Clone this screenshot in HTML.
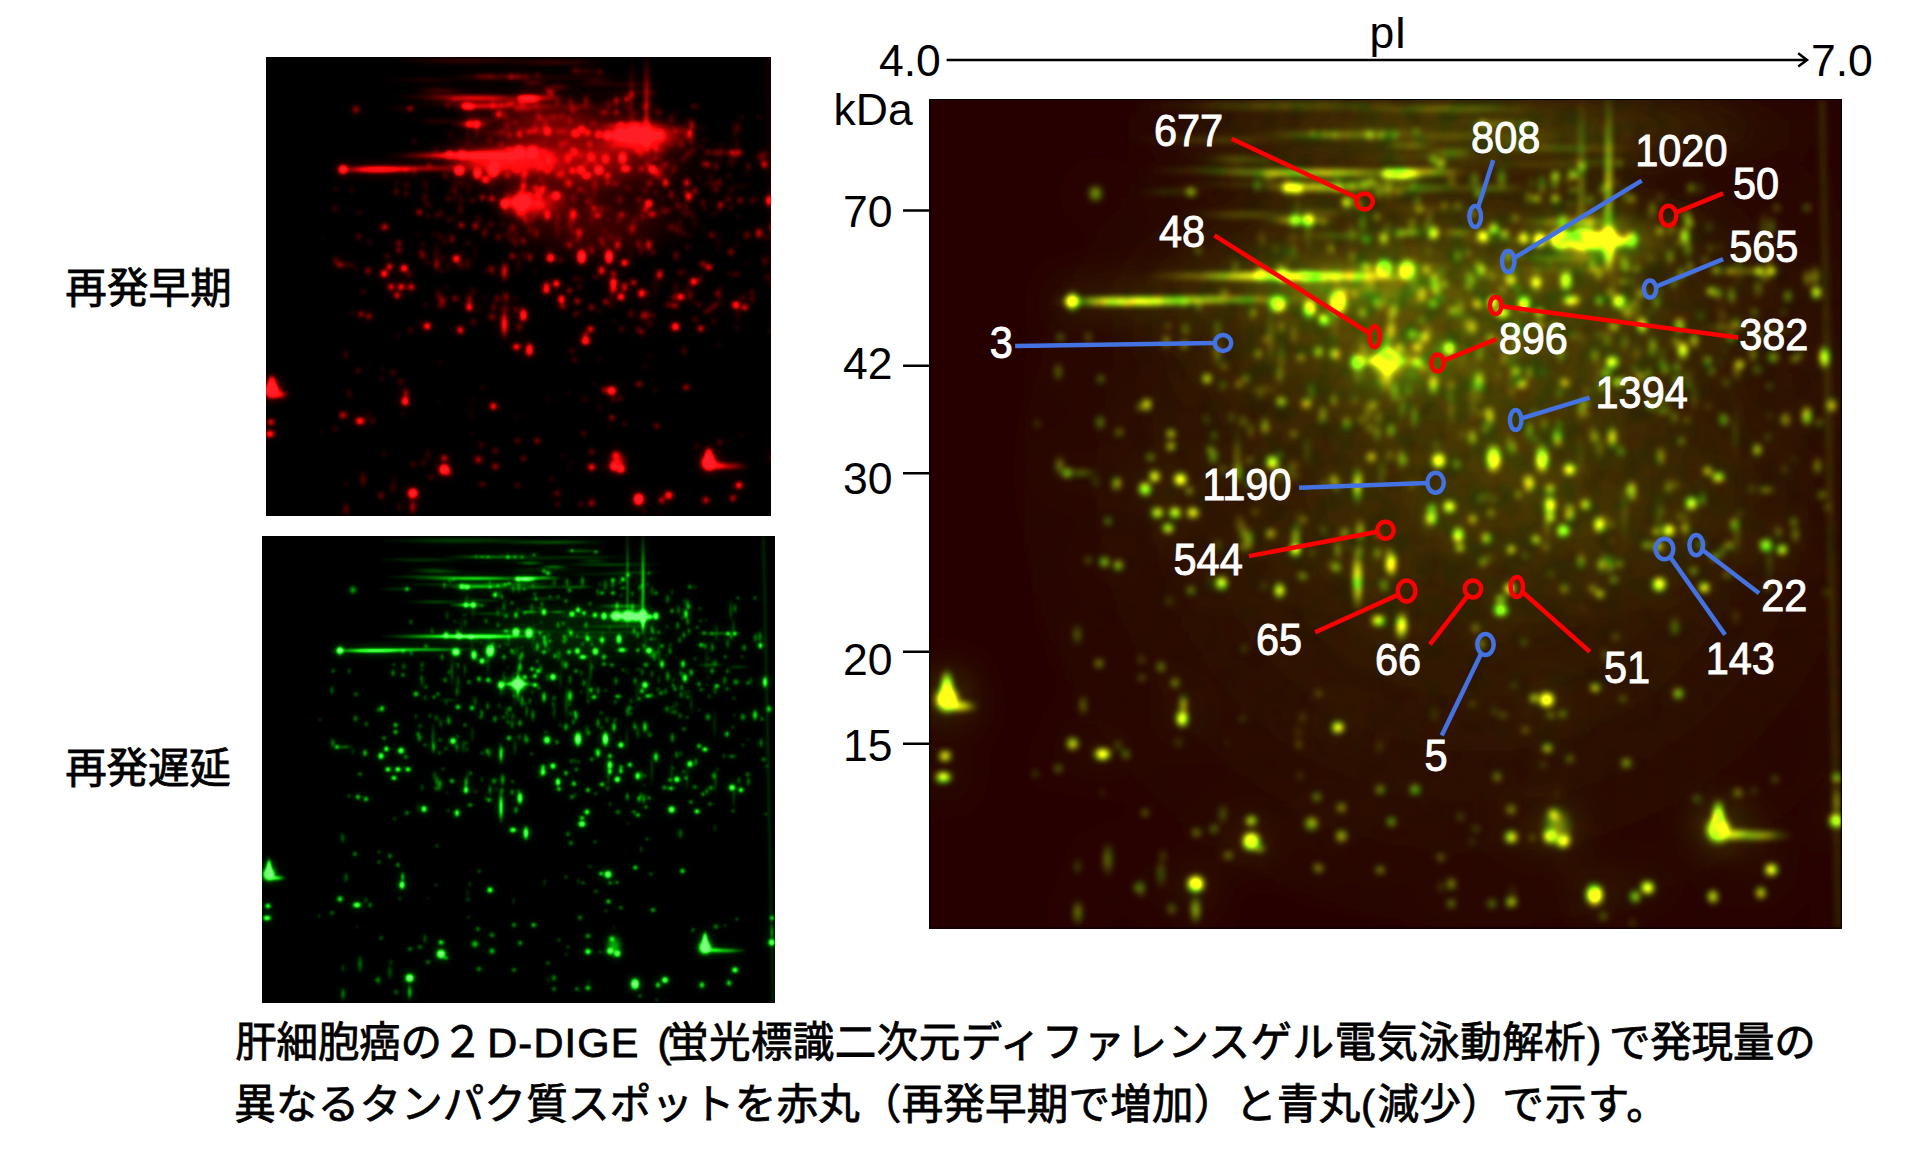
<!DOCTYPE html>
<html lang="ja"><head><meta charset="utf-8"><title>2D-DIGE</title>
<style>
html,body{margin:0;padding:0;background:#fff}
svg{display:block}
text{font-family:"Liberation Sans","Noto Sans CJK JP",sans-serif;fill:#000}
.n{font-size:41.5px;fill:#fff;stroke:#fff;stroke-width:0.9px}
.a{font-size:44.5px}
.j{font-size:41.5px;stroke:#000;stroke-width:0.8px;font-family:"Liberation Sans","Noto Sans CJK JP",sans-serif}
</style></head><body>
<svg width="1916" height="1166" viewBox="0 0 1916 1166">
<defs>
<radialGradient id="rg"><stop offset="0" stop-color="#fff"/><stop offset="0.35" stop-color="#fff" stop-opacity="0.8"/><stop offset="0.65" stop-color="#fff" stop-opacity="0.3"/><stop offset="1" stop-color="#fff" stop-opacity="0"/></radialGradient>
<radialGradient id="rg2"><stop offset="0" stop-color="#fff"/><stop offset="0.25" stop-color="#fff" stop-opacity="0.86"/><stop offset="0.5" stop-color="#fff" stop-opacity="0.5"/><stop offset="0.7" stop-color="#fff" stop-opacity="0.2"/><stop offset="0.85" stop-color="#fff" stop-opacity="0.06"/><stop offset="1" stop-color="#fff" stop-opacity="0"/></radialGradient>
<filter id="gb" filterUnits="userSpaceOnUse" x="-100" y="-100" width="1200" height="1110"><feGaussianBlur stdDeviation="22"/></filter>
<filter id="fr" filterUnits="userSpaceOnUse" x="266.6" y="57.7" width="504.3" height="458.0" color-interpolation-filters="sRGB"><feGaussianBlur in="SourceGraphic" stdDeviation="2.0" result="a"/><feGaussianBlur in="SourceGraphic" stdDeviation="7" result="b"/><feComposite in="a" in2="b" operator="arithmetic" k1="0" k2="2.1" k3="1.0" k4="0" result="c"/><feComponentTransfer><feFuncR type="gamma" amplitude="1.75" exponent="1.15" offset="0"/><feFuncG type="gamma" amplitude="0.12" exponent="2.5" offset="0"/><feFuncB type="gamma" amplitude="0.15" exponent="2.5" offset="0"/><feFuncA type="linear" slope="0" intercept="1"/></feComponentTransfer></filter>
<filter id="fg" filterUnits="userSpaceOnUse" x="262.4" y="536.9" width="512.4" height="466.1" color-interpolation-filters="sRGB"><feGaussianBlur in="SourceGraphic" stdDeviation="0.95" result="a"/><feGaussianBlur in="SourceGraphic" stdDeviation="4" result="b"/><feComposite in="a" in2="b" operator="arithmetic" k1="0" k2="1.35" k3="0.5" k4="0" result="c"/><feComponentTransfer><feFuncR type="gamma" amplitude="0.5" exponent="3" offset="0"/><feFuncG type="gamma" amplitude="1.45" exponent="0.9" offset="0"/><feFuncB type="gamma" amplitude="0.5" exponent="3" offset="0"/><feFuncA type="linear" slope="0" intercept="1"/></feComponentTransfer></filter>
<filter id="fy" filterUnits="userSpaceOnUse" x="929.2" y="99.0" width="912.6" height="829.6" color-interpolation-filters="sRGB"><feGaussianBlur in="SourceGraphic" stdDeviation="3.3" result="a"/><feGaussianBlur in="SourceGraphic" stdDeviation="20" result="b"/><feComposite in="a" in2="b" operator="arithmetic" k1="0" k2="1.75" k3="0.55" k4="0" result="c"/><feTurbulence type="fractalNoise" baseFrequency="0.045" numOctaves="2" seed="5" result="n"/><feColorMatrix in="n" type="matrix" values="1.5 0 0 0 0.05  0 0.6 0 0 0.7  0 0 0 0 1  0 0 0 0 1" result="n2"/><feComposite in="c" in2="n2" operator="arithmetic" k1="1" k2="0" k3="0" k4="0"/><feComponentTransfer><feFuncR type="gamma" amplitude="1.1" exponent="1.0" offset="0.15"/><feFuncG type="gamma" amplitude="1.3" exponent="0.85" offset="0"/><feFuncB type="gamma" amplitude="0.1" exponent="1" offset="0"/><feFuncA type="linear" slope="0" intercept="1"/></feComponentTransfer></filter>
<g id="sp" fill="url(#rg)">
<circle cx="510.9" cy="101.8" r="4.4" opacity="0.31"/>
<circle cx="394.4" cy="152.4" r="5.1" opacity="0.11"/>
<ellipse cx="566.6" cy="92.3" rx="3" ry="5.5" opacity="0.12"/>
<ellipse cx="633.5" cy="195.1" rx="4.4" ry="11" opacity="0.35"/>
<circle cx="639.4" cy="130.6" r="5.2" opacity="0.24"/>
<ellipse cx="414.2" cy="133.2" rx="4.2" ry="10.4" opacity="0.18"/>
<ellipse cx="760.7" cy="105.3" rx="4.3" ry="12.1" opacity="0.15"/>
<ellipse cx="396" cy="167.5" rx="4.2" ry="10.6" opacity="0.15"/>
<ellipse cx="691.9" cy="134.2" rx="3.6" ry="9" opacity="0.34"/>
<circle cx="530.1" cy="113.2" r="3.3" opacity="0.12"/>
<ellipse cx="499" cy="142.1" rx="3.7" ry="6.6" opacity="0.17"/>
<ellipse cx="844" cy="97.9" rx="3.9" ry="5" opacity="0.14"/>
<ellipse cx="594.7" cy="88.7" rx="4.5" ry="11.2" opacity="0.25"/>
<ellipse cx="790.8" cy="120.9" rx="4.5" ry="11.4" opacity="0.23"/>
<ellipse cx="751" cy="92.2" rx="3" ry="4" opacity="0.22"/>
<ellipse cx="683.6" cy="91.2" rx="4.6" ry="13" opacity="0.25"/>
<ellipse cx="692.3" cy="136.3" rx="4.6" ry="13.1" opacity="0.19"/>
<ellipse cx="823.9" cy="125.7" rx="4.3" ry="7.8" opacity="0.12"/>
<ellipse cx="736.4" cy="99.3" rx="3.4" ry="6.2" opacity="0.34"/>
<ellipse cx="598.5" cy="103.6" rx="3.8" ry="5" opacity="0.33"/>
<ellipse cx="762.3" cy="185.3" rx="3.5" ry="6.3" opacity="0.36"/>
<circle cx="693" cy="128.7" r="3.4" opacity="0.15"/>
<ellipse cx="464.3" cy="111.4" rx="4" ry="10.1" opacity="0.15"/>
<ellipse cx="489.7" cy="101.2" rx="4.1" ry="10.4" opacity="0.25"/>
<ellipse cx="830.2" cy="165" rx="4.1" ry="10.2" opacity="0.27"/>
<ellipse cx="722" cy="137.6" rx="5" ry="14.2" opacity="0.31"/>
<ellipse cx="545.7" cy="130.8" rx="3.1" ry="8.7" opacity="0.2"/>
<circle cx="443.3" cy="199.4" r="3.9" opacity="0.19"/>
<circle cx="373.3" cy="84.1" r="3.2" opacity="0.35"/>
<ellipse cx="658" cy="92.3" rx="3.3" ry="6" opacity="0.14"/>
<circle cx="474.6" cy="124.8" r="3.7" opacity="0.13"/>
<ellipse cx="594.3" cy="198.6" rx="4" ry="5.2" opacity="0.12"/>
<ellipse cx="398.5" cy="124.2" rx="3.5" ry="9.9" opacity="0.14"/>
<circle cx="358.3" cy="195.5" r="4.1" opacity="0.28"/>
<ellipse cx="810.5" cy="172.9" rx="3.6" ry="10.1" opacity="0.32"/>
<circle cx="699.9" cy="114.7" r="3.7" opacity="0.19"/>
<ellipse cx="459.7" cy="147.5" rx="4.1" ry="11.6" opacity="0.16"/>
<circle cx="758.4" cy="199.4" r="4.9" opacity="0.31"/>
<ellipse cx="722" cy="110.7" rx="4.1" ry="5.3" opacity="0.29"/>
<circle cx="848.7" cy="176.6" r="4" opacity="0.28"/>
<ellipse cx="832" cy="136.5" rx="5.2" ry="6.7" opacity="0.35"/>
<circle cx="531.6" cy="109.9" r="3.4" opacity="0.19"/>
<circle cx="591.5" cy="199.5" r="4.3" opacity="0.22"/>
<ellipse cx="677.9" cy="177.7" rx="3" ry="8.6" opacity="0.13"/>
<circle cx="543.8" cy="167.4" r="3.3" opacity="0.21"/>
<ellipse cx="669.2" cy="94.3" rx="5.2" ry="14.7" opacity="0.2"/>
<circle cx="550.3" cy="195" r="4.6" opacity="0.36"/>
<ellipse cx="360.6" cy="153.3" rx="4" ry="11.3" opacity="0.14"/>
<ellipse cx="766" cy="198.9" rx="4.5" ry="5.8" opacity="0.14"/>
<ellipse cx="624.8" cy="86.6" rx="4.8" ry="13.7" opacity="0.27"/>
<circle cx="613.8" cy="193.4" r="3.9" opacity="0.31"/>
<circle cx="453.7" cy="113.6" r="3.5" opacity="0.3"/>
<circle cx="512" cy="147.9" r="4.9" opacity="0.34"/>
<ellipse cx="526.1" cy="137.8" rx="4.3" ry="10.7" opacity="0.21"/>
<ellipse cx="812.3" cy="142.9" rx="4.1" ry="10.3" opacity="0.23"/>
<circle cx="789.5" cy="175" r="4.3" opacity="0.14"/>
<ellipse cx="586.9" cy="169" rx="4.2" ry="5.5" opacity="0.28"/>
<ellipse cx="615.9" cy="140.6" rx="4.8" ry="11.9" opacity="0.11"/>
<ellipse cx="443.7" cy="89.1" rx="3.1" ry="5.5" opacity="0.25"/>
<ellipse cx="732.2" cy="191" rx="3.9" ry="9.8" opacity="0.35"/>
<ellipse cx="654.2" cy="107.5" rx="3.5" ry="8.8" opacity="0.24"/>
<ellipse cx="589.2" cy="194.4" rx="4.6" ry="5.9" opacity="0.34"/>
<ellipse cx="799.6" cy="107.8" rx="3.9" ry="7.1" opacity="0.13"/>
<circle cx="570.9" cy="92.6" r="3.4" opacity="0.16"/>
<ellipse cx="500.2" cy="98.4" rx="4.8" ry="13.5" opacity="0.27"/>
<ellipse cx="532.4" cy="113.8" rx="3.2" ry="5.7" opacity="0.16"/>
<ellipse cx="829.9" cy="130.7" rx="4" ry="11.5" opacity="0.32"/>
<ellipse cx="428.5" cy="134.6" rx="4.1" ry="5.3" opacity="0.21"/>
<ellipse cx="527.6" cy="94.9" rx="3.7" ry="4.8" opacity="0.24"/>
<ellipse cx="570.1" cy="86.2" rx="3.6" ry="9.1" opacity="0.18"/>
<circle cx="834.1" cy="97.3" r="5.1" opacity="0.35"/>
<circle cx="399.8" cy="115.2" r="2.9" opacity="0.17"/>
<ellipse cx="412.3" cy="133.6" rx="5.1" ry="6.6" opacity="0.21"/>
<ellipse cx="618.9" cy="144.4" rx="4" ry="5.3" opacity="0.12"/>
<circle cx="375.8" cy="164.7" r="3.9" opacity="0.17"/>
<ellipse cx="355.1" cy="94.5" rx="3.5" ry="8.7" opacity="0.32"/>
<ellipse cx="380.4" cy="185.1" rx="3.9" ry="5.1" opacity="0.36"/>
<circle cx="558.6" cy="191.3" r="4.4" opacity="0.24"/>
<circle cx="467.6" cy="96.9" r="3.2" opacity="0.15"/>
<circle cx="819.6" cy="157.7" r="4.1" opacity="0.18"/>
<circle cx="600.4" cy="104.9" r="3.7" opacity="0.36"/>
<circle cx="365.4" cy="86.3" r="4.1" opacity="0.23"/>
<ellipse cx="471.3" cy="136.5" rx="4.5" ry="12.7" opacity="0.21"/>
<ellipse cx="597.8" cy="181.8" rx="3.8" ry="9.5" opacity="0.18"/>
<ellipse cx="455.8" cy="111" rx="3.3" ry="9.4" opacity="0.29"/>
<circle cx="417.5" cy="200" r="5.3" opacity="0.1"/>
<circle cx="664" cy="187.1" r="3.9" opacity="0.12"/>
<ellipse cx="773.5" cy="186.1" rx="4.5" ry="5.8" opacity="0.26"/>
<ellipse cx="698.1" cy="89.4" rx="3.3" ry="4.3" opacity="0.22"/>
<ellipse cx="480.2" cy="196.7" rx="5.2" ry="13.1" opacity="0.18"/>
<circle cx="364.1" cy="187.4" r="3.4" opacity="0.1"/>
<circle cx="540.2" cy="139.7" r="4.1" opacity="0.16"/>
<circle cx="740.5" cy="94.8" r="4.9" opacity="0.2"/>
<circle cx="367.7" cy="86.7" r="3.6" opacity="0.12"/>
<ellipse cx="832.5" cy="184" rx="3.2" ry="9.1" opacity="0.3"/>
<ellipse cx="719.5" cy="320.5" rx="4.6" ry="8.3" opacity="0.14"/>
<ellipse cx="786.7" cy="301.6" rx="2.9" ry="8.3" opacity="0.33"/>
<circle cx="735.7" cy="315.8" r="4.8" opacity="0.34"/>
<circle cx="801.9" cy="290" r="4.8" opacity="0.31"/>
<ellipse cx="712.9" cy="340.6" rx="4.5" ry="12.8" opacity="0.27"/>
<circle cx="450" cy="207.7" r="4.4" opacity="0.2"/>
<ellipse cx="643" cy="209.1" rx="2.9" ry="7.1" opacity="0.28"/>
<ellipse cx="663" cy="201.7" rx="4.8" ry="13.7" opacity="0.34"/>
<ellipse cx="878.3" cy="215.6" rx="4.1" ry="11.7" opacity="0.29"/>
<ellipse cx="538" cy="212.8" rx="3.5" ry="9.9" opacity="0.3"/>
<ellipse cx="526.7" cy="302.7" rx="4" ry="7.1" opacity="0.12"/>
<ellipse cx="884.9" cy="246.1" rx="2.9" ry="8.3" opacity="0.27"/>
<ellipse cx="446" cy="224.2" rx="3.4" ry="9.8" opacity="0.28"/>
<ellipse cx="732.5" cy="222" rx="4" ry="7.2" opacity="0.17"/>
<ellipse cx="759.3" cy="309.3" rx="4.5" ry="5.8" opacity="0.28"/>
<ellipse cx="555.6" cy="273.9" rx="4.7" ry="11.8" opacity="0.15"/>
<ellipse cx="920.6" cy="347.4" rx="2.9" ry="5.1" opacity="0.12"/>
<ellipse cx="672.1" cy="356.5" rx="5.3" ry="9.5" opacity="0.15"/>
<circle cx="903.4" cy="234.1" r="4.3" opacity="0.29"/>
<ellipse cx="543.1" cy="257.3" rx="4.3" ry="12.3" opacity="0.23"/>
<ellipse cx="872.5" cy="311" rx="3.4" ry="6.1" opacity="0.2"/>
<ellipse cx="489" cy="349.5" rx="4.5" ry="8.1" opacity="0.18"/>
<ellipse cx="479.3" cy="254.9" rx="3.6" ry="4.7" opacity="0.1"/>
<circle cx="800.7" cy="332.2" r="3.1" opacity="0.29"/>
<ellipse cx="880.2" cy="246.5" rx="3.7" ry="6.7" opacity="0.2"/>
<ellipse cx="863.6" cy="213.1" rx="5.1" ry="6.7" opacity="0.32"/>
<ellipse cx="553" cy="209.3" rx="4.5" ry="12.7" opacity="0.34"/>
<circle cx="536.5" cy="242.7" r="4.1" opacity="0.3"/>
<ellipse cx="818.9" cy="268" rx="2.9" ry="8.2" opacity="0.2"/>
<circle cx="866.6" cy="287.7" r="3.3" opacity="0.11"/>
<ellipse cx="791.1" cy="271.6" rx="4.7" ry="13.3" opacity="0.33"/>
<circle cx="661" cy="343.6" r="4.2" opacity="0.22"/>
<ellipse cx="586.2" cy="247.7" rx="4.7" ry="13.2" opacity="0.17"/>
<ellipse cx="750.8" cy="248.2" rx="4.2" ry="7.6" opacity="0.13"/>
<ellipse cx="744.1" cy="212.9" rx="4.1" ry="7.3" opacity="0.24"/>
<ellipse cx="643.8" cy="253.2" rx="4.7" ry="8.5" opacity="0.14"/>
<circle cx="506.5" cy="215.4" r="3.7" opacity="0.18"/>
<circle cx="599.2" cy="327.6" r="3.3" opacity="0.29"/>
<ellipse cx="622.7" cy="265.8" rx="4.1" ry="7.4" opacity="0.17"/>
<ellipse cx="801.5" cy="279" rx="4.2" ry="5.5" opacity="0.13"/>
<circle cx="670.4" cy="299.5" r="5" opacity="0.12"/>
<ellipse cx="877.7" cy="261.3" rx="4.4" ry="8" opacity="0.35"/>
<circle cx="852.4" cy="337.5" r="2.9" opacity="0.21"/>
<ellipse cx="807.6" cy="326.8" rx="5.2" ry="9.4" opacity="0.1"/>
<ellipse cx="611.5" cy="345.9" rx="4.9" ry="8.8" opacity="0.35"/>
<ellipse cx="536.1" cy="218.2" rx="3.2" ry="8" opacity="0.35"/>
<ellipse cx="462.5" cy="330.1" rx="4.6" ry="8.2" opacity="0.12"/>
<ellipse cx="814.5" cy="201.4" rx="3.1" ry="7.8" opacity="0.34"/>
<ellipse cx="745.3" cy="248.6" rx="3.1" ry="4.1" opacity="0.24"/>
<ellipse cx="635.6" cy="320.5" rx="3.1" ry="4" opacity="0.24"/>
<ellipse cx="712.3" cy="261.8" rx="3.4" ry="8.4" opacity="0.1"/>
<ellipse cx="688.4" cy="356.8" rx="3.5" ry="4.6" opacity="0.27"/>
<circle cx="870.8" cy="275.4" r="3.4" opacity="0.11"/>
<circle cx="622.1" cy="302.6" r="2.9" opacity="0.23"/>
<ellipse cx="760.5" cy="266.8" rx="3.5" ry="9.8" opacity="0.21"/>
<ellipse cx="600.2" cy="278.2" rx="4.5" ry="12.9" opacity="0.21"/>
<ellipse cx="764.8" cy="232.1" rx="4.8" ry="13.7" opacity="0.32"/>
<circle cx="440.7" cy="278.6" r="3.3" opacity="0.16"/>
<ellipse cx="521.8" cy="319.9" rx="3.5" ry="8.9" opacity="0.23"/>
<ellipse cx="503.9" cy="236.1" rx="3.9" ry="11" opacity="0.11"/>
<circle cx="718.6" cy="345.1" r="2.9" opacity="0.35"/>
<ellipse cx="479.9" cy="209.3" rx="3" ry="5.3" opacity="0.22"/>
<circle cx="780.3" cy="250.3" r="3.1" opacity="0.34"/>
<ellipse cx="578.6" cy="230.2" rx="5.1" ry="14.6" opacity="0.22"/>
<ellipse cx="569.5" cy="314.5" rx="4.9" ry="6.4" opacity="0.22"/>
<ellipse cx="462.6" cy="213.4" rx="3" ry="5.4" opacity="0.35"/>
<ellipse cx="470.3" cy="351.8" rx="3.3" ry="4.3" opacity="0.3"/>
<ellipse cx="567.8" cy="326.7" rx="3" ry="8.6" opacity="0.22"/>
<ellipse cx="601.5" cy="344.8" rx="3.3" ry="4.3" opacity="0.29"/>
<ellipse cx="655.2" cy="299.8" rx="3.4" ry="9.8" opacity="0.3"/>
<circle cx="426.6" cy="206.7" r="3" opacity="0.17"/>
<ellipse cx="798.9" cy="341.5" rx="3.7" ry="4.8" opacity="0.19"/>
<ellipse cx="907.7" cy="208" rx="4.7" ry="13.3" opacity="0.18"/>
<ellipse cx="550.4" cy="201.8" rx="4.7" ry="13.4" opacity="0.35"/>
<ellipse cx="439.6" cy="330.2" rx="3.1" ry="8.8" opacity="0.35"/>
<ellipse cx="907.8" cy="261.6" rx="3.4" ry="6.2" opacity="0.31"/>
<ellipse cx="475.1" cy="278.7" rx="2.8" ry="8.1" opacity="0.18"/>
<ellipse cx="769.8" cy="224.8" rx="3.4" ry="4.4" opacity="0.22"/>
<ellipse cx="818.2" cy="294.2" rx="4.1" ry="7.4" opacity="0.3"/>
<ellipse cx="535.5" cy="211.3" rx="2.9" ry="7.2" opacity="0.24"/>
<circle cx="489.8" cy="267.8" r="3.1" opacity="0.17"/>
<ellipse cx="449.5" cy="216.3" rx="4.1" ry="11.5" opacity="0.35"/>
<ellipse cx="496.4" cy="222" rx="4" ry="11.3" opacity="0.16"/>
<ellipse cx="688.9" cy="322" rx="4.7" ry="6.1" opacity="0.18"/>
<circle cx="703.9" cy="259.4" r="4.7" opacity="0.21"/>
<ellipse cx="503" cy="238" rx="3.5" ry="8.8" opacity="0.15"/>
<ellipse cx="439.3" cy="240.5" rx="3.4" ry="8.6" opacity="0.16"/>
<circle cx="831.1" cy="303.2" r="5.3" opacity="0.1"/>
<ellipse cx="870.3" cy="237.3" rx="3.9" ry="5.1" opacity="0.11"/>
<ellipse cx="559.9" cy="219.8" rx="3.3" ry="8.2" opacity="0.15"/>
<ellipse cx="444.7" cy="281.3" rx="3.3" ry="8.1" opacity="0.17"/>
<ellipse cx="815" cy="348.9" rx="3.1" ry="7.7" opacity="0.28"/>
<circle cx="589.4" cy="207.1" r="3.7" opacity="0.15"/>
<circle cx="539.5" cy="294.8" r="4.4" opacity="0.31"/>
<ellipse cx="836.6" cy="265.1" rx="3.7" ry="9.3" opacity="0.18"/>
<circle cx="512.3" cy="325.4" r="4.2" opacity="0.21"/>
<ellipse cx="824.5" cy="304.9" rx="3.2" ry="8" opacity="0.12"/>
<ellipse cx="491.4" cy="309.8" rx="3.8" ry="5" opacity="0.27"/>
<ellipse cx="625.3" cy="209.2" rx="4.7" ry="6.1" opacity="0.21"/>
<ellipse cx="414.7" cy="320.9" rx="4.8" ry="13.7" opacity="0.15"/>
<circle cx="788.8" cy="233" r="2.8" opacity="0.21"/>
<ellipse cx="837.4" cy="264.6" rx="5" ry="9" opacity="0.3"/>
<ellipse cx="473.6" cy="209.3" rx="3.2" ry="5.7" opacity="0.12"/>
<circle cx="733" cy="259.1" r="4.1" opacity="0.19"/>
<ellipse cx="490.4" cy="228" rx="3" ry="5.4" opacity="0.23"/>
<circle cx="829.2" cy="352.2" r="3.3" opacity="0.32"/>
<ellipse cx="428.1" cy="343.7" rx="3.6" ry="9" opacity="0.34"/>
<circle cx="609.5" cy="342.4" r="4.4" opacity="0.27"/>
<circle cx="856.5" cy="298.2" r="4.3" opacity="0.32"/>
<ellipse cx="501.6" cy="235.3" rx="3.8" ry="9.5" opacity="0.14"/>
<circle cx="552.9" cy="380.7" r="5.2" opacity="0.13"/>
<ellipse cx="691.7" cy="475.6" rx="2.9" ry="3.8" opacity="0.15"/>
<ellipse cx="717.1" cy="443.2" rx="4.4" ry="5.7" opacity="0.27"/>
<ellipse cx="518.1" cy="396.3" rx="3.8" ry="4.9" opacity="0.22"/>
<ellipse cx="607" cy="361" rx="4.4" ry="7.8" opacity="0.23"/>
<circle cx="612.8" cy="453.9" r="4.9" opacity="0.31"/>
<ellipse cx="581" cy="367.8" rx="3.7" ry="4.8" opacity="0.14"/>
<ellipse cx="609.5" cy="437" rx="2.9" ry="8.3" opacity="0.15"/>
<circle cx="937.4" cy="406.3" r="4.6" opacity="0.13"/>
<circle cx="651.8" cy="416.3" r="5.2" opacity="0.13"/>
<circle cx="352.9" cy="453.2" r="4.5" opacity="0.16"/>
<circle cx="978.2" cy="434.1" r="5.2" opacity="0.28"/>
<ellipse cx="800.1" cy="391.9" rx="4.9" ry="12.2" opacity="0.29"/>
<ellipse cx="416" cy="497.3" rx="3.5" ry="6.3" opacity="0.15"/>
<ellipse cx="650.6" cy="501" rx="3.3" ry="4.3" opacity="0.26"/>
<ellipse cx="469.7" cy="415.5" rx="3.3" ry="6" opacity="0.16"/>
<circle cx="947.2" cy="463.5" r="5" opacity="0.3"/>
<ellipse cx="488.1" cy="477.3" rx="2.9" ry="3.8" opacity="0.34"/>
<circle cx="617" cy="438.8" r="4.5" opacity="0.18"/>
<ellipse cx="673.5" cy="491.1" rx="4.7" ry="6" opacity="0.18"/>
<circle cx="984.1" cy="447.5" r="3.7" opacity="0.22"/>
<ellipse cx="428.3" cy="473.4" rx="2.9" ry="7.3" opacity="0.18"/>
<ellipse cx="744.2" cy="511" rx="4.3" ry="12.2" opacity="0.33"/>
<ellipse cx="808.3" cy="474" rx="3.4" ry="4.4" opacity="0.26"/>
<circle cx="602.8" cy="437.4" r="5" opacity="0.23"/>
<ellipse cx="726" cy="364.5" rx="2.9" ry="7.4" opacity="0.2"/>
<ellipse cx="380.2" cy="413.1" rx="3.4" ry="8.4" opacity="0.19"/>
<circle cx="398.9" cy="414.5" r="4.9" opacity="0.15"/>
<circle cx="947.3" cy="395.4" r="3.2" opacity="0.13"/>
<ellipse cx="406.4" cy="461.2" rx="3.5" ry="4.5" opacity="0.34"/>
<ellipse cx="345.9" cy="485.5" rx="5" ry="12.6" opacity="0.27"/>
<circle cx="610.7" cy="503.7" r="4.6" opacity="0.16"/>
<circle cx="307.8" cy="366.9" r="2.9" opacity="0.17"/>
<ellipse cx="347.4" cy="478.9" rx="2.8" ry="7.1" opacity="0.27"/>
<ellipse cx="442.3" cy="421.8" rx="4.1" ry="11.7" opacity="0.24"/>
<ellipse cx="745.8" cy="484.3" rx="3.2" ry="4.2" opacity="0.13"/>
<ellipse cx="735.1" cy="512.5" rx="4.6" ry="8.3" opacity="0.28"/>
<ellipse cx="311.9" cy="489.2" rx="4.7" ry="8.4" opacity="0.14"/>
<ellipse cx="755.3" cy="384.7" rx="5.3" ry="6.9" opacity="0.17"/>
<ellipse cx="334.1" cy="409.7" rx="4.7" ry="13.3" opacity="0.34"/>
<ellipse cx="487.4" cy="365.5" rx="4.4" ry="12.5" opacity="0.22"/>
<ellipse cx="846.1" cy="439" rx="3.5" ry="9.9" opacity="0.33"/>
<circle cx="918.3" cy="370.7" r="4.1" opacity="0.18"/>
<ellipse cx="468.8" cy="473.5" rx="5.2" ry="14.7" opacity="0.33"/>
<ellipse cx="438.7" cy="418" rx="4.3" ry="7.8" opacity="0.33"/>
<ellipse cx="738.4" cy="465.5" rx="4.5" ry="11.2" opacity="0.23"/>
<ellipse cx="881.1" cy="466.3" rx="5" ry="8.9" opacity="0.34"/>
<ellipse cx="467.3" cy="495.5" rx="4.8" ry="8.6" opacity="0.26"/>
<circle cx="360.7" cy="499.5" r="3.2" opacity="0.15"/>
<ellipse cx="732.4" cy="382.6" rx="5.3" ry="14.9" opacity="0.13"/>
<ellipse cx="336" cy="465.5" rx="4.4" ry="12.5" opacity="0.14"/>
<circle cx="339.5" cy="491.1" r="4.7" opacity="0.31"/>
<ellipse cx="867.4" cy="496.5" rx="3" ry="8.5" opacity="0.34"/>
<circle cx="380.7" cy="389.5" r="3.1" opacity="0.34"/>
<ellipse cx="929.9" cy="475" rx="3" ry="8.6" opacity="0.27"/>
<ellipse cx="633.5" cy="378" rx="4.8" ry="13.6" opacity="0.17"/>
<ellipse cx="525.6" cy="423.5" rx="2.9" ry="3.7" opacity="0.33"/>
<ellipse cx="340.6" cy="476" rx="5.1" ry="12.7" opacity="0.24"/>
<ellipse cx="889.1" cy="453.9" rx="2.9" ry="5.2" opacity="0.13"/>
<circle cx="661.8" cy="372.7" r="4" opacity="0.24"/>
<ellipse cx="455.5" cy="492" rx="3" ry="3.9" opacity="0.16"/>
<circle cx="308.5" cy="388.9" r="4.7" opacity="0.12"/>
<circle cx="642.8" cy="434.1" r="4.8" opacity="0.34"/>
<ellipse cx="712.3" cy="506.8" rx="4.1" ry="10.2" opacity="0.34"/>
<ellipse cx="501.4" cy="390.9" rx="4.6" ry="8.2" opacity="0.16"/>
<ellipse cx="948.8" cy="477.1" rx="4" ry="11.5" opacity="0.25"/>
<ellipse cx="379" cy="408.3" rx="3" ry="5.5" opacity="0.33"/>
<ellipse cx="816.6" cy="423.2" rx="4.4" ry="5.8" opacity="0.17"/>
<ellipse cx="487.4" cy="498" rx="4.1" ry="7.3" opacity="0.35"/>
<ellipse cx="738.4" cy="504.7" rx="3.1" ry="7.8" opacity="0.29"/>
<ellipse cx="821.9" cy="458.2" rx="3.7" ry="4.8" opacity="0.24"/>
<ellipse cx="900.5" cy="427.6" rx="4.2" ry="5.5" opacity="0.16"/>
<circle cx="607.3" cy="478.1" r="4.3" opacity="0.2"/>
<ellipse cx="746.6" cy="466.1" rx="4.1" ry="5.3" opacity="0.19"/>
<circle cx="787.9" cy="489.1" r="3.2" opacity="0.34"/>
<circle cx="801.5" cy="451.5" r="3.7" opacity="0.2"/>
<circle cx="436.9" cy="509.6" r="4.6" opacity="0.16"/>
<circle cx="757" cy="387.9" r="3.2" opacity="0.3"/>
<ellipse cx="808.5" cy="425.2" rx="3.3" ry="9.4" opacity="0.33"/>
<circle cx="499.4" cy="495.6" r="4" opacity="0.21"/>
<ellipse cx="348" cy="363.6" rx="4.1" ry="11.5" opacity="0.16"/>
<circle cx="138" cy="261.4" r="4.7" opacity="0.25"/>
<ellipse cx="380" cy="301.9" rx="4.2" ry="12.1" opacity="0.23"/>
<ellipse cx="363.1" cy="357.6" rx="4.4" ry="12.6" opacity="0.24"/>
<ellipse cx="364.8" cy="360.4" rx="4.4" ry="7.9" opacity="0.19"/>
<circle cx="202.9" cy="365.3" r="5" opacity="0.26"/>
<ellipse cx="326.8" cy="348.7" rx="3.4" ry="6.2" opacity="0.2"/>
<ellipse cx="137.3" cy="402.3" rx="4.1" ry="11.7" opacity="0.29"/>
<ellipse cx="181.9" cy="354.5" rx="4.8" ry="8.6" opacity="0.27"/>
<circle cx="380.1" cy="226.1" r="3.4" opacity="0.13"/>
<circle cx="345.5" cy="421.5" r="4.1" opacity="0.27"/>
<circle cx="256.7" cy="249.2" r="4" opacity="0.23"/>
<ellipse cx="358.4" cy="323.4" rx="3.8" ry="6.9" opacity="0.14"/>
<circle cx="318.9" cy="293.1" r="4.7" opacity="0.25"/>
<ellipse cx="299.7" cy="350.5" rx="3.4" ry="6.2" opacity="0.18"/>
<ellipse cx="135.6" cy="299.2" rx="3.9" ry="11" opacity="0.23"/>
<ellipse cx="290.4" cy="226.8" rx="3.6" ry="6.4" opacity="0.29"/>
<ellipse cx="275.9" cy="252.5" rx="4.8" ry="8.7" opacity="0.19"/>
<ellipse cx="176.9" cy="418.9" rx="3" ry="8.5" opacity="0.14"/>
<circle cx="307.4" cy="370" r="4.8" opacity="0.17"/>
<ellipse cx="306.5" cy="393" rx="4.8" ry="8.7" opacity="0.3"/>
<ellipse cx="339.5" cy="353.3" rx="4.8" ry="8.6" opacity="0.17"/>
<ellipse cx="364.4" cy="263.8" rx="3.7" ry="4.9" opacity="0.3"/>
<ellipse cx="317.4" cy="314" rx="4.8" ry="6.3" opacity="0.17"/>
<ellipse cx="310.7" cy="276.2" rx="4" ry="10.1" opacity="0.23"/>
<ellipse cx="312.1" cy="286.1" rx="5.1" ry="9.2" opacity="0.11"/>
<circle cx="358.1" cy="413.3" r="4.8" opacity="0.21"/>
<circle cx="226.2" cy="337.6" r="4.5" opacity="0.29"/>
<circle cx="311.2" cy="259.8" r="3.1" opacity="0.27"/>
<circle cx="182.7" cy="307.1" r="4.8" opacity="0.28"/>
<ellipse cx="815.8" cy="579" rx="5" ry="12.6" opacity="0.2"/>
<ellipse cx="227.3" cy="865.4" rx="4.2" ry="11.9" opacity="0.18"/>
<ellipse cx="317.1" cy="783.9" rx="4.1" ry="11.8" opacity="0.18"/>
<ellipse cx="714.7" cy="559.1" rx="3.1" ry="5.6" opacity="0.09"/>
<ellipse cx="268.4" cy="705.9" rx="3" ry="5.3" opacity="0.19"/>
<ellipse cx="739.2" cy="609.7" rx="3.2" ry="8.1" opacity="0.18"/>
<ellipse cx="157" cy="841.6" rx="4" ry="9.9" opacity="0.13"/>
<ellipse cx="400.5" cy="695.3" rx="3.9" ry="11" opacity="0.07"/>
<ellipse cx="686" cy="761.8" rx="2.9" ry="7.2" opacity="0.07"/>
<circle cx="769.5" cy="903.4" r="4.8" opacity="0.13"/>
<ellipse cx="558.2" cy="863.8" rx="2.9" ry="8.2" opacity="0.12"/>
<ellipse cx="257.9" cy="550.3" rx="4.5" ry="5.8" opacity="0.13"/>
<ellipse cx="592.5" cy="814.2" rx="3.3" ry="6" opacity="0.11"/>
<ellipse cx="362.6" cy="534" rx="3.5" ry="4.6" opacity="0.18"/>
<ellipse cx="490.2" cy="710.1" rx="3.5" ry="8.7" opacity="0.11"/>
<circle cx="322.2" cy="705.6" r="3.1" opacity="0.1"/>
<circle cx="402.5" cy="742.4" r="4.4" opacity="0.12"/>
<ellipse cx="616.6" cy="671.9" rx="4.2" ry="7.6" opacity="0.1"/>
<ellipse cx="156.7" cy="587.6" rx="5.1" ry="12.8" opacity="0.17"/>
<ellipse cx="201.9" cy="709" rx="4.2" ry="7.5" opacity="0.15"/>
<ellipse cx="677.5" cy="785.3" rx="4.3" ry="12.2" opacity="0.07"/>
<circle cx="184.6" cy="760.8" r="4.4" opacity="0.07"/>
<ellipse cx="303.6" cy="527.9" rx="4.7" ry="13.5" opacity="0.06"/>
<ellipse cx="883.2" cy="567.6" rx="3.6" ry="10.2" opacity="0.1"/>
<ellipse cx="404.9" cy="678.1" rx="3.6" ry="6.5" opacity="0.14"/>
<ellipse cx="636.7" cy="870.2" rx="4.1" ry="10.1" opacity="0.07"/>
<ellipse cx="251.2" cy="829.8" rx="4.2" ry="7.6" opacity="0.12"/>
<ellipse cx="163.3" cy="664.6" rx="4.3" ry="12.2" opacity="0.2"/>
<ellipse cx="550.4" cy="674.4" rx="3.1" ry="8.7" opacity="0.13"/>
<circle cx="903.2" cy="758.2" r="3.9" opacity="0.16"/>
<circle cx="767.8" cy="311.7" r="3" opacity="0.13"/>
<ellipse cx="741.4" cy="263.5" rx="3.4" ry="9.7" opacity="0.25"/>
<ellipse cx="971" cy="194.5" rx="4.7" ry="13.3" opacity="0.27"/>
<ellipse cx="922.1" cy="139.6" rx="4.4" ry="12.5" opacity="0.2"/>
<circle cx="906.8" cy="296.8" r="5.1" opacity="0.24"/>
<ellipse cx="739.8" cy="126" rx="4.4" ry="11.1" opacity="0.12"/>
<ellipse cx="815.8" cy="265.5" rx="3.2" ry="5.8" opacity="0.22"/>
<ellipse cx="817.2" cy="308.3" rx="4.6" ry="8.3" opacity="0.24"/>
<ellipse cx="773.7" cy="278.8" rx="3.7" ry="10.6" opacity="0.13"/>
<ellipse cx="940.4" cy="216.2" rx="4.8" ry="8.6" opacity="0.29"/>
<circle cx="936" cy="233.8" r="3.5" opacity="0.22"/>
<ellipse cx="902.1" cy="279.7" rx="4.3" ry="10.8" opacity="0.25"/>
<ellipse cx="740.9" cy="152.6" rx="4.9" ry="12.2" opacity="0.19"/>
<ellipse cx="962.2" cy="196.7" rx="4.5" ry="11.3" opacity="0.25"/>
<ellipse cx="796.4" cy="211.2" rx="4.5" ry="5.9" opacity="0.15"/>
<circle cx="844.1" cy="237.6" r="4.8" opacity="0.16"/>
<circle cx="772.6" cy="297" r="5.3" opacity="0.15"/>
<ellipse cx="952.9" cy="280.6" rx="4.5" ry="8.1" opacity="0.17"/>
<circle cx="758.5" cy="231.2" r="4.8" opacity="0.26"/>
<circle cx="920.1" cy="314.8" r="3.6" opacity="0.24"/>
<circle cx="855" cy="163.5" r="3.4" opacity="0.26"/>
<circle cx="853.6" cy="140.3" r="4.8" opacity="0.15"/>
<ellipse cx="884" cy="298.2" rx="5" ry="12.6" opacity="0.16"/>
<circle cx="865.3" cy="162.5" r="3.3" opacity="0.14"/>
<ellipse cx="914.8" cy="194" rx="4.2" ry="7.6" opacity="0.26"/>
<ellipse cx="675.5" cy="54.1" rx="112.4" ry="2.5" opacity="0.18"/>
<ellipse cx="467.1" cy="96.5" rx="46" ry="2.3" opacity="0.08"/>
<ellipse cx="428" cy="124.5" rx="47" ry="2.1" opacity="0.18"/>
<ellipse cx="550.4" cy="120.6" rx="56.4" ry="3" opacity="0.11"/>
<ellipse cx="349.3" cy="93.3" rx="86.4" ry="2.6" opacity="0.1"/>
<ellipse cx="669.8" cy="72.2" rx="118.1" ry="2.3" opacity="0.08"/>
<ellipse cx="322.5" cy="78.2" rx="95.3" ry="2.5" opacity="0.18"/>
<ellipse cx="691.8" cy="174.5" rx="90.1" ry="3" opacity="0.16"/>
<ellipse cx="346.2" cy="68.2" rx="58" ry="2" opacity="0.19"/>
<ellipse cx="525" cy="41.7" rx="106.7" ry="2.3" opacity="0.11"/>
<ellipse cx="617" cy="39.6" rx="114" ry="3" opacity="0.09"/>
<ellipse cx="544.9" cy="11.5" rx="112.2" ry="2.2" opacity="0.14"/>
<ellipse cx="625.1" cy="154.7" rx="77.7" ry="2" opacity="0.12"/>
<ellipse cx="310.1" cy="44.9" rx="98.7" ry="2.6" opacity="0.13"/>
<ellipse cx="587.7" cy="97.9" rx="68.9" ry="2.4" opacity="0.12"/>
<ellipse cx="470.6" cy="92.2" rx="103.3" ry="3" opacity="0.19"/>
<ellipse cx="508.5" cy="184.2" rx="102.7" ry="2.1" opacity="0.18"/>
<ellipse cx="341" cy="126.8" rx="69" ry="2.8" opacity="0.17"/>
<ellipse cx="718.9" cy="186.8" rx="70" ry="1.9" opacity="0.09"/>
<ellipse cx="725" cy="69" rx="58" ry="2" opacity="0.12"/>
<ellipse cx="450.1" cy="149.7" rx="53.8" ry="2.4" opacity="0.19"/>
<ellipse cx="496" cy="35.2" rx="72.6" ry="2.2" opacity="0.08"/>
<ellipse cx="552.7" cy="63.9" rx="103.1" ry="2.2" opacity="0.09"/>
<ellipse cx="503.4" cy="100.2" rx="51.6" ry="2.5" opacity="0.16"/>
<ellipse cx="645.7" cy="186.6" rx="83.8" ry="2.9" opacity="0.09"/>
<ellipse cx="631.7" cy="195.5" rx="73.7" ry="2.2" opacity="0.11"/>
<ellipse cx="471.2" cy="275.4" rx="2.8" ry="19.3" opacity="0.2"/>
<ellipse cx="919.1" cy="179.5" rx="3.2" ry="26.4" opacity="0.15"/>
<ellipse cx="636.1" cy="296.1" rx="3.4" ry="39.2" opacity="0.12"/>
<ellipse cx="544.9" cy="139" rx="2.8" ry="22.2" opacity="0.11"/>
<ellipse cx="837.3" cy="326.8" rx="2.5" ry="19.7" opacity="0.16"/>
<ellipse cx="828.6" cy="470.3" rx="3.3" ry="34.5" opacity="0.1"/>
<ellipse cx="410" cy="384.6" rx="3.2" ry="20.1" opacity="0.12"/>
<ellipse cx="333.2" cy="393.3" rx="3" ry="36.6" opacity="0.21"/>
<ellipse cx="640.8" cy="258.8" rx="2.6" ry="31.4" opacity="0.21"/>
<ellipse cx="381.7" cy="283" rx="3.4" ry="18.6" opacity="0.17"/>
<ellipse cx="477.3" cy="342.9" rx="3.7" ry="16.2" opacity="0.18"/>
<ellipse cx="674.9" cy="458.1" rx="2.7" ry="38.9" opacity="0.22"/>
<ellipse cx="370.2" cy="262.4" rx="2.6" ry="36.3" opacity="0.21"/>
<ellipse cx="798.5" cy="462" rx="3.1" ry="38" opacity="0.12"/>
<ellipse cx="392.2" cy="408.4" rx="2.9" ry="15.9" opacity="0.19"/>
<ellipse cx="408.4" cy="218.2" rx="2.3" ry="30.9" opacity="0.1"/>
<ellipse cx="515.8" cy="339.9" rx="3.7" ry="15.7" opacity="0.21"/>
<ellipse cx="774" cy="225.2" rx="3.5" ry="31.4" opacity="0.14"/>
<ellipse cx="471.3" cy="296.5" rx="2.7" ry="17.6" opacity="0.11"/>
<ellipse cx="492.3" cy="304.6" rx="3.1" ry="34.5" opacity="0.1"/>
<ellipse cx="400.6" cy="468.4" rx="3" ry="21" opacity="0.11"/>
<ellipse cx="731.7" cy="303.5" rx="2.8" ry="39.3" opacity="0.08"/>
<ellipse cx="711.3" cy="394" rx="3.1" ry="30.5" opacity="0.09"/>
<ellipse cx="914.2" cy="143.4" rx="2.8" ry="25.4" opacity="0.2"/>
<ellipse cx="760" cy="452.2" rx="3.1" ry="40.2" opacity="0.12"/>
<ellipse cx="569.4" cy="342.1" rx="2.7" ry="18.9" opacity="0.18"/>
<ellipse cx="540.9" cy="462.9" rx="3.2" ry="15.5" opacity="0.1"/>
<ellipse cx="440.5" cy="249.7" rx="2.5" ry="32.2" opacity="0.11"/>
<ellipse cx="581.6" cy="278.1" rx="3.7" ry="26.7" opacity="0.09"/>
<ellipse cx="920.1" cy="503" rx="2.2" ry="37.2" opacity="0.17"/>
<ellipse cx="882.4" cy="366.5" rx="3.2" ry="35.7" opacity="0.09"/>
<ellipse cx="387.9" cy="170.6" rx="2.2" ry="21.2" opacity="0.09"/>
<ellipse cx="395.5" cy="258.8" rx="2.4" ry="16.8" opacity="0.21"/>
<ellipse cx="884.3" cy="475" rx="2.3" ry="30.2" opacity="0.21"/>
<ellipse cx="593.3" cy="322.8" rx="3.6" ry="38.5" opacity="0.16"/>
<ellipse cx="492.9" cy="410.4" rx="3.3" ry="22.5" opacity="0.14"/>
<ellipse cx="747.5" cy="209.6" rx="2.8" ry="29.1" opacity="0.13"/>
<ellipse cx="866.6" cy="241.7" rx="2.9" ry="36" opacity="0.08"/>
<ellipse cx="529" cy="196.8" rx="3" ry="39.8" opacity="0.14"/>
<ellipse cx="886.2" cy="186.5" rx="3.7" ry="23.4" opacity="0.13"/>
<ellipse cx="389.5" cy="7.2" rx="173.9" ry="6.2" opacity="0.1"/>
<ellipse cx="440.3" cy="39.2" rx="94.8" ry="2.5" opacity="0.3"/>
<ellipse cx="479.3" cy="39.2" rx="5.6" ry="4.4" opacity="0.6"/>
<circle cx="440.3" cy="39.2" r="3.7" opacity="0.4"/>
<circle cx="428.6" cy="38.4" r="3.7" opacity="0.35"/>
<circle cx="416.9" cy="38.1" r="3.7" opacity="0.3"/>
<ellipse cx="493" cy="39.2" rx="5" ry="3.7" opacity="0.5"/>
<ellipse cx="331" cy="64.6" rx="52.7" ry="2.5" opacity="0.12"/>
<ellipse cx="414.9" cy="81" rx="123.8" ry="3.1" opacity="0.7"/>
<ellipse cx="498.8" cy="82.2" rx="7.5" ry="6.2" opacity="0.85"/>
<ellipse cx="420.8" cy="97" rx="68.5" ry="3.7" opacity="0.5"/>
<circle cx="389.5" cy="97" r="7.5" opacity="0.8"/>
<ellipse cx="399.3" cy="97.8" rx="7.5" ry="6.9" opacity="0.8"/>
<ellipse cx="444.2" cy="97.8" rx="5" ry="4.4" opacity="0.45"/>
<ellipse cx="459.8" cy="95.8" rx="5" ry="4.4" opacity="0.45"/>
<ellipse cx="473.5" cy="93.1" rx="5" ry="4.4" opacity="0.5"/>
<circle cx="481.3" cy="90.7" r="4.4" opacity="0.5"/>
<circle cx="453.9" cy="113.4" r="6.2" opacity="0.6"/>
<ellipse cx="282.2" cy="101.7" rx="6.2" ry="5" opacity="0.55"/>
<ellipse cx="262.7" cy="101.7" rx="44.8" ry="1.9" opacity="0.15"/>
<ellipse cx="176.8" cy="103.6" rx="8.7" ry="10" opacity="0.3"/>
<ellipse cx="401.2" cy="132.9" rx="42.2" ry="3.1" opacity="0.5"/>
<circle cx="397.3" cy="132.9" r="6.9" opacity="0.8"/>
<ellipse cx="411" cy="132.9" rx="6.9" ry="7.5" opacity="0.8"/>
<ellipse cx="411" cy="140.7" rx="1.6" ry="30.4" opacity="0.3"/>
<ellipse cx="494.9" cy="152.4" rx="5" ry="8.7" opacity="0.55"/>
<ellipse cx="475.4" cy="154.4" rx="5.6" ry="4.4" opacity="0.4"/>
<ellipse cx="290" cy="166.1" rx="3.7" ry="6.2" opacity="0.25"/>
<ellipse cx="387.6" cy="194.2" rx="160.7" ry="3.7" opacity="0.75"/>
<ellipse cx="428.6" cy="194.2" rx="105.4" ry="6.2" opacity="0.4"/>
<ellipse cx="358.3" cy="191.5" rx="6.2" ry="8.7" opacity="0.7"/>
<circle cx="383.7" cy="193.4" r="8.1" opacity="0.85"/>
<ellipse cx="407.1" cy="195.4" rx="7.5" ry="6.2" opacity="0.7"/>
<ellipse cx="494.9" cy="185.6" rx="10" ry="11.2" opacity="0.9"/>
<ellipse cx="475.4" cy="183.6" rx="6.2" ry="5" opacity="0.5"/>
<ellipse cx="151.4" cy="221.9" rx="9.4" ry="8.7" opacity="1.0"/>
<ellipse cx="217.8" cy="221.9" rx="89.6" ry="4.4" opacity="0.85"/>
<ellipse cx="303.7" cy="219.9" rx="121.2" ry="2.8" opacity="0.6"/>
<ellipse cx="151.4" cy="221.9" rx="2.5" ry="15.2" opacity="0.4"/>
<ellipse cx="274.4" cy="222.7" rx="5" ry="6.2" opacity="0.35"/>
<circle cx="319.3" cy="212.9" r="5" opacity="0.35"/>
<ellipse cx="377.8" cy="224.6" rx="11.2" ry="10.6" opacity="0.9"/>
<ellipse cx="413" cy="230.5" rx="7.5" ry="12.5" opacity="0.85"/>
<ellipse cx="444.2" cy="222.7" rx="11.2" ry="16.2" opacity="0.9"/>
<circle cx="428.6" cy="242.2" r="7.5" opacity="0.8"/>
<ellipse cx="465.7" cy="289" rx="8.7" ry="10" opacity="0.85"/>
<ellipse cx="465.7" cy="296.8" rx="1.9" ry="20.3" opacity="0.4"/>
<ellipse cx="498.8" cy="287.1" rx="13.7" ry="12.5" opacity="1.0"/>
<ellipse cx="498.8" cy="289" rx="3.1" ry="38.1" opacity="0.95"/>
<ellipse cx="495.7" cy="287.1" rx="39.5" ry="3.1" opacity="0.9"/>
<ellipse cx="498.8" cy="287.1" rx="22.5" ry="18.7" opacity="0.45"/>
<circle cx="440.3" cy="279.3" r="6.2" opacity="0.55"/>
<ellipse cx="422.7" cy="277.3" rx="5.6" ry="6.9" opacity="0.5"/>
<circle cx="403.2" cy="283.2" r="5" opacity="0.35"/>
<ellipse cx="254.9" cy="265.6" rx="3.7" ry="8.7" opacity="0.35"/>
<circle cx="274.4" cy="269.5" r="5" opacity="0.35"/>
<circle cx="299.8" cy="306.6" r="6.2" opacity="0.55"/>
<ellipse cx="233.4" cy="335.1" rx="6.2" ry="7.5" opacity="0.55"/>
<circle cx="381.7" cy="332" r="6.2" opacity="0.55"/>
<circle cx="409.1" cy="333.9" r="6.2" opacity="0.55"/>
<circle cx="260" cy="367.1" r="5.6" opacity="0.5"/>
<circle cx="260" cy="380.8" r="5.6" opacity="0.5"/>
<ellipse cx="303.7" cy="384.7" rx="5" ry="6.2" opacity="0.3"/>
<circle cx="372" cy="398.3" r="8.1" opacity="0.8"/>
<circle cx="481.3" cy="392.5" r="6.2" opacity="0.5"/>
<ellipse cx="145.6" cy="410" rx="6.2" ry="5.6" opacity="0.55"/>
<ellipse cx="161.2" cy="410" rx="18.4" ry="2.5" opacity="0.3"/>
<ellipse cx="112.4" cy="356.2" rx="4.4" ry="3.7" opacity="0.15"/>
<ellipse cx="200.2" cy="421.7" rx="5" ry="8.1" opacity="0.5"/>
<ellipse cx="231.5" cy="427.6" rx="7.5" ry="8.1" opacity="0.8"/>
<ellipse cx="242" cy="413.9" rx="6.2" ry="6.9" opacity="0.75"/>
<circle cx="270.5" cy="417.1" r="8.1" opacity="0.8"/>
<circle cx="237.3" cy="392.5" r="5" opacity="0.35"/>
<circle cx="280.2" cy="429.5" r="5" opacity="0.35"/>
<ellipse cx="465.7" cy="423.7" rx="3.7" ry="22.8" opacity="0.7"/>
<ellipse cx="245.1" cy="453.7" rx="7.5" ry="6.2" opacity="0.7"/>
<ellipse cx="264.6" cy="453.7" rx="7.5" ry="6.2" opacity="0.8"/>
<ellipse cx="284.2" cy="453.7" rx="7.5" ry="6.2" opacity="0.7"/>
<ellipse cx="487.1" cy="222.7" rx="5" ry="6.2" opacity="0.4"/>
<ellipse cx="471.5" cy="234.4" rx="5" ry="6.2" opacity="0.4"/>
<ellipse cx="502.7" cy="253.9" rx="5" ry="12.5" opacity="0.5"/>
<ellipse cx="453.9" cy="355.4" rx="5" ry="8.7" opacity="0.3"/>
<circle cx="334.9" cy="312.5" r="5" opacity="0.3"/>
<circle cx="342.7" cy="306.6" r="5" opacity="0.3"/>
<ellipse cx="362.2" cy="318.3" rx="21.1" ry="2.5" opacity="0.15"/>
<circle cx="426.6" cy="351.5" r="5" opacity="0.25"/>
<ellipse cx="356.4" cy="279.3" rx="5" ry="6.2" opacity="0.3"/>
<circle cx="395.4" cy="367.1" r="5" opacity="0.25"/>
<circle cx="346.6" cy="396.4" r="4.4" opacity="0.25"/>
<circle cx="317.3" cy="406.1" r="4.4" opacity="0.25"/>
<circle cx="397.3" cy="402.2" r="4.4" opacity="0.2"/>
<circle cx="428.6" cy="421.7" r="4.4" opacity="0.2"/>
<ellipse cx="169" cy="261.7" rx="3.7" ry="7.5" opacity="0.2"/>
<ellipse cx="311.5" cy="250" rx="3.1" ry="9.1" opacity="0.25"/>
<ellipse cx="381.7" cy="250" rx="3.1" ry="8.7" opacity="0.25"/>
<ellipse cx="479.3" cy="361.2" rx="3.7" ry="6.2" opacity="0.25"/>
<ellipse cx="467.6" cy="117.3" rx="3.7" ry="5" opacity="0.35"/>
<ellipse cx="487.1" cy="129" rx="3.7" ry="5" opacity="0.35"/>
<ellipse cx="436.4" cy="164.1" rx="3.7" ry="6.2" opacity="0.3"/>
<ellipse cx="459.8" cy="171.9" rx="3.7" ry="6.2" opacity="0.3"/>
<ellipse cx="350.5" cy="234.4" rx="3.7" ry="8.7" opacity="0.3"/>
<ellipse cx="331" cy="183.6" rx="3.1" ry="8.1" opacity="0.25"/>
<ellipse cx="483.2" cy="335.9" rx="5" ry="7.5" opacity="0.3"/>
<ellipse cx="502.7" cy="363.2" rx="5" ry="8.7" opacity="0.35"/>
<ellipse cx="742.8" cy="91.9" rx="2.2" ry="119.2" opacity="0.75"/>
<ellipse cx="712.7" cy="90" rx="1.6" ry="116.7" opacity="0.45"/>
<ellipse cx="549.6" cy="146.6" rx="6.2" ry="8.7" opacity="0.8"/>
<circle cx="604.2" cy="150.5" r="7.5" opacity="0.8"/>
<circle cx="615.9" cy="142.7" r="6.2" opacity="0.75"/>
<circle cx="627.6" cy="148.5" r="5.6" opacity="0.7"/>
<ellipse cx="649.1" cy="152.4" rx="6.2" ry="7.5" opacity="0.7"/>
<ellipse cx="666.7" cy="154.4" rx="7.5" ry="10" opacity="0.85"/>
<ellipse cx="690.1" cy="154.4" rx="13.7" ry="12.5" opacity="1.0"/>
<ellipse cx="713.5" cy="154.4" rx="15" ry="13.7" opacity="1.0"/>
<circle cx="729.1" cy="156.3" r="10" opacity="0.95"/>
<ellipse cx="742.8" cy="154.4" rx="12.5" ry="17.5" opacity="1.0"/>
<ellipse cx="742.8" cy="164.1" rx="3.7" ry="30.4" opacity="0.85"/>
<ellipse cx="717.4" cy="154.4" rx="58" ry="5" opacity="0.5"/>
<ellipse cx="717.4" cy="154.4" rx="42.2" ry="16.2" opacity="0.28"/>
<ellipse cx="768.1" cy="154.4" rx="7.5" ry="10" opacity="0.85"/>
<ellipse cx="756.4" cy="156.3" rx="7.5" ry="6.2" opacity="0.7"/>
<ellipse cx="701.8" cy="134.9" rx="65.9" ry="1.9" opacity="0.5"/>
<ellipse cx="522.2" cy="146.6" rx="21.1" ry="3.1" opacity="0.4"/>
<ellipse cx="576.9" cy="146.6" rx="21.1" ry="2.5" opacity="0.35"/>
<ellipse cx="514.4" cy="82.2" rx="26.3" ry="5.6" opacity="0.9"/>
<ellipse cx="537.9" cy="80.2" rx="52.7" ry="3.1" opacity="0.5"/>
<ellipse cx="557.4" cy="70.5" rx="6.2" ry="5.6" opacity="0.55"/>
<circle cx="549.6" cy="66.5" r="5" opacity="0.45"/>
<ellipse cx="621.8" cy="27.5" rx="44.8" ry="1.9" opacity="0.3"/>
<ellipse cx="604.2" cy="26.7" rx="4.4" ry="3.7" opacity="0.55"/>
<ellipse cx="651.1" cy="29.5" rx="4.4" ry="3.7" opacity="0.55"/>
<ellipse cx="645.2" cy="47" rx="39.5" ry="1.9" opacity="0.2"/>
<ellipse cx="580.8" cy="10" rx="110.7" ry="2.5" opacity="0.15"/>
<circle cx="703.7" cy="82.9" r="6.2" opacity="0.6"/>
<circle cx="713.5" cy="74.4" r="5" opacity="0.6"/>
<ellipse cx="684.2" cy="84.1" rx="5.6" ry="5" opacity="0.55"/>
<ellipse cx="684.2" cy="109.5" rx="5.6" ry="5" opacity="0.55"/>
<ellipse cx="662.8" cy="109.5" rx="5.6" ry="4.4" opacity="0.5"/>
<ellipse cx="703.7" cy="99.7" rx="7.5" ry="2.5" opacity="0.4"/>
<ellipse cx="561.3" cy="116.5" rx="3.7" ry="3.1" opacity="0.4"/>
<ellipse cx="576.9" cy="116.5" rx="3.7" ry="3.1" opacity="0.4"/>
<circle cx="534" cy="121.2" r="4.4" opacity="0.4"/>
<ellipse cx="592.5" cy="125.1" rx="3.7" ry="5" opacity="0.4"/>
<ellipse cx="520.3" cy="187.5" rx="10" ry="13.7" opacity="0.9"/>
<ellipse cx="602.3" cy="187.5" rx="5" ry="8.7" opacity="0.55"/>
<circle cx="635.4" cy="199.3" r="6.2" opacity="0.6"/>
<ellipse cx="662.8" cy="201.2" rx="7.5" ry="5.6" opacity="0.6"/>
<ellipse cx="695.9" cy="199.3" rx="6.9" ry="12.5" opacity="0.85"/>
<ellipse cx="549.6" cy="224.6" rx="6.2" ry="5" opacity="0.55"/>
<circle cx="598.4" cy="224.6" r="6.2" opacity="0.6"/>
<ellipse cx="614.8" cy="222.7" rx="6.9" ry="8.1" opacity="0.8"/>
<ellipse cx="625.7" cy="234.4" rx="10" ry="5.6" opacity="0.8"/>
<ellipse cx="649.9" cy="223.5" rx="8.1" ry="9.4" opacity="0.85"/>
<ellipse cx="666.7" cy="234.4" rx="5.6" ry="6.9" opacity="0.55"/>
<ellipse cx="701.8" cy="220.7" rx="11.2" ry="5.6" opacity="0.8"/>
<ellipse cx="754.5" cy="221.9" rx="8.7" ry="8.1" opacity="0.85"/>
<circle cx="733" cy="220.7" r="5" opacity="0.4"/>
<ellipse cx="826.7" cy="150.5" rx="5.6" ry="12.5" opacity="0.6"/>
<ellipse cx="799.4" cy="144.6" rx="5" ry="6.2" opacity="0.35"/>
<circle cx="908.7" cy="188.7" r="5" opacity="0.75"/>
<circle cx="922.3" cy="188.7" r="5" opacity="0.75"/>
<ellipse cx="893.1" cy="188.7" rx="47.4" ry="1.9" opacity="0.35"/>
<ellipse cx="971.9" cy="212.1" rx="5.6" ry="8.1" opacity="0.7"/>
<circle cx="856" cy="211" r="5.6" opacity="0.55"/>
<circle cx="928.2" cy="119.2" r="3.7" opacity="0.3"/>
<circle cx="961.4" cy="119.2" r="3.7" opacity="0.35"/>
<ellipse cx="779.9" cy="248" rx="5.6" ry="11.2" opacity="0.6"/>
<ellipse cx="820.8" cy="248" rx="5.6" ry="10" opacity="0.6"/>
<ellipse cx="824.7" cy="275.4" rx="6.2" ry="11.2" opacity="0.7"/>
<ellipse cx="980.9" cy="283.2" rx="5.6" ry="13.7" opacity="0.8"/>
<ellipse cx="567.1" cy="273.4" rx="8.1" ry="8.7" opacity="0.85"/>
<circle cx="537.9" cy="261.7" r="6.2" opacity="0.6"/>
<circle cx="532" cy="271.5" r="6.2" opacity="0.6"/>
<circle cx="526.2" cy="257.8" r="5.6" opacity="0.55"/>
<ellipse cx="532" cy="289" rx="7.5" ry="5.6" opacity="0.7"/>
<circle cx="512.5" cy="273.4" r="5.6" opacity="0.6"/>
<ellipse cx="746.7" cy="289" rx="8.1" ry="8.7" opacity="0.8"/>
<ellipse cx="740.8" cy="300.7" rx="5.6" ry="6.2" opacity="0.55"/>
<ellipse cx="752.5" cy="310.5" rx="7.5" ry="5" opacity="0.6"/>
<ellipse cx="694" cy="311.3" rx="7.5" ry="4.4" opacity="0.55"/>
<ellipse cx="647.2" cy="312.5" rx="7.5" ry="5.6" opacity="0.55"/>
<ellipse cx="641.3" cy="298.8" rx="5" ry="6.2" opacity="0.5"/>
<ellipse cx="549.6" cy="312.5" rx="5" ry="13.7" opacity="0.55"/>
<ellipse cx="600.3" cy="310.5" rx="5.6" ry="15.6" opacity="0.55"/>
<ellipse cx="887.2" cy="291" rx="6.2" ry="5.6" opacity="0.55"/>
<circle cx="924.3" cy="283.2" r="7.5" opacity="0.3"/>
<ellipse cx="852.1" cy="287.1" rx="5" ry="6.2" opacity="0.35"/>
<circle cx="947.7" cy="285.1" r="5" opacity="0.3"/>
<ellipse cx="615.9" cy="394.4" rx="8.7" ry="17.5" opacity="0.9"/>
<ellipse cx="669.4" cy="394.4" rx="7.5" ry="17.5" opacity="0.9"/>
<ellipse cx="555.4" cy="396.4" rx="8.7" ry="10" opacity="0.8"/>
<circle cx="699.8" cy="406.1" r="7.5" opacity="0.8"/>
<ellipse cx="746.7" cy="371" rx="5" ry="13.7" opacity="0.55"/>
<ellipse cx="727.2" cy="371" rx="5" ry="6.2" opacity="0.35"/>
<ellipse cx="686.2" cy="371" rx="5" ry="12.5" opacity="0.5"/>
<ellipse cx="592.5" cy="371" rx="5.6" ry="10" opacity="0.35"/>
<ellipse cx="655" cy="421.7" rx="6.2" ry="11.2" opacity="0.6"/>
<ellipse cx="678.4" cy="427.6" rx="5.6" ry="6.2" opacity="0.55"/>
<ellipse cx="768.1" cy="429.5" rx="5.6" ry="12.5" opacity="0.6"/>
<ellipse cx="863.8" cy="414.7" rx="7.5" ry="6.2" opacity="0.7"/>
<circle cx="852.1" cy="408.1" r="5.6" opacity="0.55"/>
<ellipse cx="961.4" cy="347.6" rx="5.6" ry="12.5" opacity="0.55"/>
<ellipse cx="937.9" cy="351.5" rx="6.2" ry="8.7" opacity="0.3"/>
<ellipse cx="869.6" cy="351.5" rx="6.2" ry="8.7" opacity="0.3"/>
<ellipse cx="906.7" cy="384.7" rx="5" ry="7.5" opacity="0.5"/>
<ellipse cx="988.7" cy="335.9" rx="6.2" ry="8.7" opacity="0.5"/>
<ellipse cx="834.5" cy="443.2" rx="7.5" ry="8.1" opacity="0.8"/>
<ellipse cx="678.4" cy="445.2" rx="6.2" ry="11.2" opacity="0.8"/>
<circle cx="567.1" cy="447.1" r="7.5" opacity="0.8"/>
<ellipse cx="547.6" cy="449.1" rx="5.6" ry="6.2" opacity="0.55"/>
<ellipse cx="717.4" cy="445.2" rx="6.2" ry="5.6" opacity="0.55"/>
<circle cx="699.8" cy="449.1" r="5" opacity="0.5"/>
<ellipse cx="916.5" cy="428.4" rx="10" ry="3.7" opacity="0.3"/>
<ellipse cx="592.5" cy="250" rx="5" ry="10" opacity="0.4"/>
<circle cx="612" cy="261.7" r="5" opacity="0.4"/>
<ellipse cx="506.6" cy="230.5" rx="3.7" ry="10.1" opacity="0.4"/>
<ellipse cx="571" cy="232.4" rx="5" ry="6.2" opacity="0.4"/>
<circle cx="666.7" cy="248" r="5" opacity="0.45"/>
<circle cx="682.3" cy="250" r="5" opacity="0.4"/>
<circle cx="748.6" cy="250" r="5" opacity="0.35"/>
<ellipse cx="727.2" cy="281.2" rx="3.7" ry="9.1" opacity="0.3"/>
<ellipse cx="690.1" cy="281.2" rx="3.7" ry="10" opacity="0.3"/>
<ellipse cx="627.6" cy="285.1" rx="3.7" ry="10.1" opacity="0.3"/>
<circle cx="777.9" cy="304.6" r="5.6" opacity="0.35"/>
<circle cx="805.2" cy="296.8" r="5" opacity="0.35"/>
<circle cx="830.6" cy="312.5" r="5" opacity="0.25"/>
<ellipse cx="717.4" cy="333.9" rx="5" ry="6.2" opacity="0.3"/>
<ellipse cx="528.1" cy="347.6" rx="3.7" ry="15.2" opacity="0.3"/>
<ellipse cx="612" cy="351.5" rx="3.7" ry="10.1" opacity="0.35"/>
<ellipse cx="655" cy="363.2" rx="3.7" ry="12.7" opacity="0.35"/>
<ellipse cx="506.6" cy="320.3" rx="3.7" ry="15.2" opacity="0.35"/>
<ellipse cx="514.4" cy="394.4" rx="5" ry="12.7" opacity="0.3"/>
<ellipse cx="973.1" cy="402.2" rx="5" ry="11.2" opacity="0.25"/>
<ellipse cx="975" cy="355.4" rx="3.7" ry="5" opacity="0.3"/>
<ellipse cx="822.8" cy="374.9" rx="4.4" ry="5" opacity="0.3"/>
<ellipse cx="789.6" cy="335.9" rx="6.2" ry="7.5" opacity="0.25"/>
<circle cx="805.2" cy="341.7" r="6.2" opacity="0.2"/>
<ellipse cx="574.9" cy="400.3" rx="5" ry="6.2" opacity="0.3"/>
<ellipse cx="637.4" cy="382.7" rx="3.7" ry="7.5" opacity="0.3"/>
<circle cx="779.9" cy="212.9" r="5" opacity="0.4"/>
<ellipse cx="795.5" cy="222.7" rx="3.7" ry="8.7" opacity="0.35"/>
<ellipse cx="822.8" cy="191.5" rx="3.7" ry="8.7" opacity="0.35"/>
<circle cx="768.1" cy="109.5" r="5" opacity="0.35"/>
<circle cx="754.5" cy="70.5" r="3.7" opacity="0.35"/>
<ellipse cx="522.2" cy="50.9" rx="31.6" ry="2.5" opacity="0.3"/>
<ellipse cx="569.1" cy="58.7" rx="31.6" ry="2.5" opacity="0.3"/>
<ellipse cx="537.9" cy="97.8" rx="42.2" ry="2.5" opacity="0.25"/>
<ellipse cx="615.9" cy="97.8" rx="42.2" ry="1.9" opacity="0.25"/>
<ellipse cx="530.1" cy="35.3" rx="5" ry="3.7" opacity="0.4"/>
<ellipse cx="506.6" cy="39.2" rx="5" ry="3.7" opacity="0.4"/>
<ellipse cx="631.5" cy="171.9" rx="3.7" ry="8.7" opacity="0.4"/>
<ellipse cx="576.9" cy="171.9" rx="3.7" ry="8.7" opacity="0.35"/>
<ellipse cx="541.8" cy="187.5" rx="5" ry="6.2" opacity="0.4"/>
<circle cx="561.3" cy="203.2" r="5" opacity="0.35"/>
<circle cx="588.6" cy="203.2" r="5" opacity="0.35"/>
<ellipse cx="725.2" cy="183.6" rx="3.7" ry="10" opacity="0.4"/>
<ellipse cx="760.3" cy="179.7" rx="3.7" ry="8.7" opacity="0.35"/>
<ellipse cx="873.5" cy="250" rx="31.6" ry="2.5" opacity="0.2"/>
<ellipse cx="928.2" cy="253.9" rx="26.3" ry="2.5" opacity="0.15"/>
<circle cx="861.8" cy="187.5" r="5" opacity="0.4"/>
<circle cx="877.4" cy="188.7" r="4.4" opacity="0.4"/>
<ellipse cx="12.9" cy="658.7" rx="15" ry="15.6" opacity="1.0"/>
<ellipse cx="12.9" cy="648.5" rx="7.5" ry="18.7" opacity="0.9"/>
<ellipse cx="12.9" cy="637.6" rx="3.7" ry="13.2" opacity="0.6"/>
<ellipse cx="26.5" cy="665.7" rx="21.1" ry="5.6" opacity="0.55"/>
<ellipse cx="10.9" cy="720.3" rx="7.5" ry="6.2" opacity="0.7"/>
<ellipse cx="9" cy="743.8" rx="10" ry="6.2" opacity="0.85"/>
<ellipse cx="272.4" cy="679.4" rx="6.9" ry="10" opacity="0.9"/>
<ellipse cx="273.6" cy="663.7" rx="3.1" ry="12.7" opacity="0.6"/>
<circle cx="151.4" cy="706.7" r="7.5" opacity="0.55"/>
<ellipse cx="184.6" cy="718.4" rx="10.6" ry="6.9" opacity="0.8"/>
<ellipse cx="210" cy="718.4" rx="4.4" ry="6.2" opacity="0.3"/>
<circle cx="180.7" cy="618.9" r="5.6" opacity="0.3"/>
<ellipse cx="227.6" cy="634.5" rx="4.4" ry="3.7" opacity="0.3"/>
<ellipse cx="249" cy="622.8" rx="5" ry="6.2" opacity="0.3"/>
<ellipse cx="264.6" cy="640.3" rx="5" ry="5.6" opacity="0.35"/>
<ellipse cx="227.6" cy="614.9" rx="3.1" ry="5" opacity="0.2"/>
<circle cx="444.2" cy="689.1" r="7.5" opacity="0.75"/>
<ellipse cx="489.1" cy="572" rx="8.7" ry="6.2" opacity="0.8"/>
<ellipse cx="315.4" cy="531" rx="7.5" ry="8.1" opacity="0.8"/>
<ellipse cx="379.8" cy="538.8" rx="6.2" ry="9.4" opacity="0.7"/>
<ellipse cx="397.3" cy="494" rx="6.2" ry="8.7" opacity="0.8"/>
<ellipse cx="397.3" cy="480.3" rx="3.1" ry="15.2" opacity="0.5"/>
<ellipse cx="465.7" cy="527.1" rx="4.4" ry="35.5" opacity="0.75"/>
<ellipse cx="502.7" cy="509.6" rx="6.2" ry="15.6" opacity="0.85"/>
<circle cx="186.6" cy="507.6" r="6.2" opacity="0.5"/>
<circle cx="202.2" cy="511.5" r="6.2" opacity="0.5"/>
<ellipse cx="256.8" cy="470.5" rx="6.9" ry="5.6" opacity="0.75"/>
<circle cx="370" cy="476.4" r="5.6" opacity="0.5"/>
<ellipse cx="442.2" cy="513.5" rx="5.6" ry="5" opacity="0.5"/>
<ellipse cx="405.2" cy="523.2" rx="6.2" ry="4.4" opacity="0.4"/>
<circle cx="282.2" cy="538.8" r="5" opacity="0.35"/>
<ellipse cx="452" cy="476.4" rx="6.2" ry="7.5" opacity="0.3"/>
<ellipse cx="494.9" cy="533" rx="5" ry="8.7" opacity="0.35"/>
<ellipse cx="444.2" cy="494" rx="3.1" ry="12.7" opacity="0.35"/>
<circle cx="169" cy="505.7" r="3.7" opacity="0.3"/>
<circle cx="190.5" cy="462.7" r="5" opacity="0.3"/>
<circle cx="348.6" cy="814" r="11.2" opacity="1.0"/>
<ellipse cx="348.6" cy="791.4" rx="6.9" ry="6.2" opacity="0.6"/>
<ellipse cx="358.3" cy="821.8" rx="6.2" ry="3.7" opacity="0.5"/>
<circle cx="287.3" cy="860.9" r="10.6" opacity="1.0"/>
<ellipse cx="287.3" cy="888.2" rx="5" ry="17.8" opacity="0.4"/>
<circle cx="414.9" cy="794.5" r="8.7" opacity="0.4"/>
<circle cx="448.1" cy="808.2" r="7.5" opacity="0.4"/>
<circle cx="448.1" cy="776.9" r="6.2" opacity="0.3"/>
<ellipse cx="422.7" cy="843.3" rx="6.9" ry="5.6" opacity="0.3"/>
<circle cx="491" cy="757.4" r="5.6" opacity="0.35"/>
<ellipse cx="491" cy="845.2" rx="6.2" ry="5" opacity="0.3"/>
<circle cx="420.8" cy="765.2" r="5.6" opacity="0.3"/>
<ellipse cx="502.7" cy="792.5" rx="5" ry="6.2" opacity="0.25"/>
<ellipse cx="190.5" cy="833.5" rx="5.6" ry="20.3" opacity="0.2"/>
<ellipse cx="157.3" cy="892.1" rx="5" ry="15.2" opacity="0.25"/>
<ellipse cx="249" cy="849.1" rx="5" ry="17.8" opacity="0.15"/>
<circle cx="223.7" cy="864.8" r="5.6" opacity="0.25"/>
<ellipse cx="323.2" cy="829.6" rx="5.6" ry="5" opacity="0.3"/>
<ellipse cx="288.1" cy="804.3" rx="6.2" ry="5.6" opacity="0.25"/>
<ellipse cx="307.6" cy="800.4" rx="6.2" ry="5" opacity="0.25"/>
<ellipse cx="260.7" cy="888.2" rx="5" ry="7.5" opacity="0.2"/>
<ellipse cx="135.8" cy="734" rx="5" ry="5.6" opacity="0.25"/>
<ellipse cx="231.5" cy="782.8" rx="5" ry="4.4" opacity="0.25"/>
<ellipse cx="110.5" cy="739.9" rx="3.7" ry="5" opacity="0.15"/>
<circle cx="340.7" cy="603.2" r="3.7" opacity="0.25"/>
<ellipse cx="338.8" cy="679.4" rx="3.7" ry="3.1" opacity="0.2"/>
<circle cx="401.2" cy="707.8" r="4.4" opacity="0.2"/>
<ellipse cx="422.7" cy="652" rx="4.4" ry="5" opacity="0.2"/>
<ellipse cx="514.4" cy="577.9" rx="6.2" ry="16.2" opacity="0.85"/>
<ellipse cx="623.7" cy="560.3" rx="9.4" ry="7.5" opacity="0.9"/>
<circle cx="633.5" cy="536.9" r="6.9" opacity="0.7"/>
<ellipse cx="623.7" cy="548.6" rx="6.2" ry="5.6" opacity="0.55"/>
<ellipse cx="576.9" cy="478.3" rx="6.2" ry="10" opacity="0.85"/>
<ellipse cx="578.8" cy="492" rx="5.6" ry="5" opacity="0.6"/>
<circle cx="608.1" cy="482.2" r="5.6" opacity="0.6"/>
<ellipse cx="662.8" cy="483" rx="6.2" ry="5" opacity="0.6"/>
<circle cx="692.8" cy="473.3" r="7.5" opacity="0.85"/>
<ellipse cx="732.2" cy="466.6" rx="5.6" ry="10" opacity="0.8"/>
<ellipse cx="547.6" cy="458.8" rx="6.2" ry="10" opacity="0.8"/>
<ellipse cx="678.4" cy="458" rx="5" ry="7.5" opacity="0.7"/>
<ellipse cx="699.8" cy="456.9" rx="5" ry="6.2" opacity="0.7"/>
<ellipse cx="592.5" cy="460.8" rx="5" ry="6.2" opacity="0.5"/>
<circle cx="809.1" cy="473.3" r="7.5" opacity="0.8"/>
<ellipse cx="795.5" cy="474.4" rx="5" ry="3.7" opacity="0.55"/>
<ellipse cx="797.4" cy="490.8" rx="7.5" ry="4.4" opacity="0.6"/>
<circle cx="826.7" cy="470.5" r="5" opacity="0.4"/>
<ellipse cx="916.5" cy="489.3" rx="8.1" ry="7.5" opacity="0.85"/>
<ellipse cx="934" cy="494" rx="6.9" ry="6.2" opacity="0.7"/>
<ellipse cx="875.5" cy="490" rx="6.2" ry="5.6" opacity="0.35"/>
<ellipse cx="844.3" cy="488.1" rx="6.2" ry="5" opacity="0.3"/>
<ellipse cx="783.8" cy="489.3" rx="6.2" ry="5" opacity="0.3"/>
<circle cx="798.6" cy="532.2" r="8.7" opacity="0.85"/>
<ellipse cx="848.2" cy="535.7" rx="6.9" ry="6.2" opacity="0.7"/>
<ellipse cx="836.5" cy="517.4" rx="5" ry="4.4" opacity="0.4"/>
<circle cx="859.9" cy="501.8" r="5" opacity="0.4"/>
<ellipse cx="733" cy="542.7" rx="6.2" ry="5" opacity="0.5"/>
<ellipse cx="725.2" cy="536.9" rx="5" ry="4.4" opacity="0.35"/>
<ellipse cx="748.6" cy="527.1" rx="5" ry="4.4" opacity="0.35"/>
<ellipse cx="735" cy="509.6" rx="5" ry="4.4" opacity="0.35"/>
<ellipse cx="754.5" cy="509.6" rx="5" ry="4.4" opacity="0.35"/>
<ellipse cx="604.2" cy="507.6" rx="5" ry="5.6" opacity="0.35"/>
<circle cx="635.4" cy="494" r="5.6" opacity="0.55"/>
<ellipse cx="873.5" cy="521.3" rx="5" ry="4.4" opacity="0.3"/>
<circle cx="918.4" cy="534.9" r="4.4" opacity="0.25"/>
<circle cx="982.8" cy="540.8" r="3.7" opacity="0.25"/>
<circle cx="694" cy="536.9" r="6.2" opacity="0.25"/>
<circle cx="678.4" cy="521.3" r="3.7" opacity="0.25"/>
<ellipse cx="602.3" cy="597.4" rx="5" ry="6.2" opacity="0.3"/>
<ellipse cx="596.4" cy="579.8" rx="5" ry="5.6" opacity="0.3"/>
<circle cx="649.1" cy="595.4" r="4.4" opacity="0.2"/>
<circle cx="750.6" cy="589.6" r="4.4" opacity="0.2"/>
<circle cx="674.5" cy="658.7" r="9.4" opacity="0.9"/>
<ellipse cx="660.8" cy="657.1" rx="5.6" ry="5" opacity="0.6"/>
<ellipse cx="727.9" cy="645.4" rx="6.2" ry="5" opacity="0.6"/>
<circle cx="819.7" cy="652" r="6.2" opacity="0.55"/>
<ellipse cx="678.4" cy="675.4" rx="5" ry="4.4" opacity="0.35"/>
<ellipse cx="692" cy="674.3" rx="5" ry="4.4" opacity="0.35"/>
<ellipse cx="625.7" cy="675.4" rx="5" ry="3.7" opacity="0.25"/>
<ellipse cx="651.1" cy="691.8" rx="5.6" ry="3.7" opacity="0.25"/>
<ellipse cx="758.4" cy="657.9" rx="5" ry="3.7" opacity="0.25"/>
<ellipse cx="592.5" cy="663.7" rx="4.4" ry="3.7" opacity="0.2"/>
<ellipse cx="639.3" cy="643.4" rx="4.4" ry="3.7" opacity="0.2"/>
<ellipse cx="675.3" cy="711.7" rx="6.2" ry="5.6" opacity="0.5"/>
<ellipse cx="699.8" cy="723.5" rx="5" ry="4.4" opacity="0.3"/>
<ellipse cx="762.3" cy="728.1" rx="6.2" ry="5.6" opacity="0.4"/>
<ellipse cx="619.8" cy="743" rx="5" ry="6.2" opacity="0.3"/>
<ellipse cx="529.3" cy="757.4" rx="6.2" ry="5.6" opacity="0.5"/>
<circle cx="670.6" cy="730.1" r="3.7" opacity="0.2"/>
<ellipse cx="994.5" cy="743.8" rx="5.6" ry="6.2" opacity="0.55"/>
<circle cx="993.8" cy="791.4" r="8.7" opacity="0.85"/>
<ellipse cx="994.5" cy="771.1" rx="2.5" ry="20.3" opacity="0.4"/>
<ellipse cx="863.8" cy="801.5" rx="15.6" ry="16.2" opacity="1.0"/>
<ellipse cx="863.8" cy="790.6" rx="7.5" ry="18.7" opacity="0.9"/>
<ellipse cx="863.8" cy="779.7" rx="3.7" ry="13.2" opacity="0.6"/>
<ellipse cx="900.9" cy="807.4" rx="47.4" ry="5" opacity="0.4"/>
<ellipse cx="881.3" cy="806.2" rx="21.1" ry="6.2" opacity="0.35"/>
<ellipse cx="885.2" cy="760.5" rx="6.2" ry="5.6" opacity="0.3"/>
<circle cx="840.4" cy="767.2" r="5" opacity="0.25"/>
<circle cx="926.2" cy="745.7" r="4.4" opacity="0.2"/>
<ellipse cx="635.4" cy="809.3" rx="8.1" ry="7.5" opacity="0.7"/>
<circle cx="635.4" cy="778.9" r="6.2" opacity="0.35"/>
<ellipse cx="682.3" cy="784.7" rx="6.9" ry="7.5" opacity="0.5"/>
<circle cx="678.4" cy="808.2" r="8.7" opacity="0.8"/>
<circle cx="692.8" cy="813.2" r="8.7" opacity="0.8"/>
<ellipse cx="686.2" cy="798.4" rx="18.7" ry="25" opacity="0.25"/>
<ellipse cx="922.3" cy="845.2" rx="8.1" ry="7.5" opacity="0.75"/>
<ellipse cx="910.6" cy="870.6" rx="6.2" ry="7.5" opacity="0.55"/>
<ellipse cx="857.9" cy="874.5" rx="6.9" ry="8.1" opacity="0.55"/>
<ellipse cx="727.2" cy="872.6" rx="10.6" ry="13.7" opacity="1.0"/>
<ellipse cx="785.7" cy="864.8" rx="8.7" ry="8.1" opacity="0.8"/>
<ellipse cx="772.1" cy="874.5" rx="6.2" ry="7.5" opacity="0.55"/>
<ellipse cx="635.4" cy="880.4" rx="6.9" ry="6.2" opacity="0.5"/>
<ellipse cx="614" cy="882.3" rx="5.6" ry="5" opacity="0.3"/>
<ellipse cx="569.1" cy="860.9" rx="5.6" ry="7.5" opacity="0.3"/>
<ellipse cx="569.1" cy="882.3" rx="5" ry="5.6" opacity="0.3"/>
<ellipse cx="557.4" cy="831.6" rx="5" ry="4.4" opacity="0.25"/>
<ellipse cx="503.5" cy="792.5" rx="4.4" ry="5" opacity="0.25"/>
<circle cx="578.8" cy="786.7" r="4.4" opacity="0.2"/>
<ellipse cx="596.4" cy="800.4" rx="4.4" ry="3.7" opacity="0.2"/>
<ellipse cx="736.9" cy="896" rx="4.4" ry="5" opacity="0.25"/>
<circle cx="658.9" cy="810.1" r="3.7" opacity="0.25"/>
<line x1="978.1" y1="0" x2="996.5" y2="909.6" stroke="#fff" stroke-width="3" opacity="0.09"/>
</g>
</defs>
<rect width="1916" height="1166" fill="#fff"/>
<g filter="url(#fr)"><rect x="266.6" y="57.7" width="504.3" height="458.0" fill="#000"/><g transform="translate(265.3 57.0) scale(0.51350 0.50679)"><g fill="url(#rg2)"><ellipse cx="740" cy="155" rx="110" ry="40" opacity="0.22"/><ellipse cx="470" cy="205" rx="150" ry="35" opacity="0.2"/><ellipse cx="520" cy="290" rx="90" ry="40" opacity="0.17"/><ellipse cx="600" cy="200" rx="300" ry="110" opacity="0.12"/><ellipse cx="560" cy="120" rx="200" ry="60" opacity="0.07"/><ellipse cx="640" cy="330" rx="240" ry="90" opacity="0.06"/></g><use href="#sp"/></g></g>
<g filter="url(#fg)"><rect x="262.4" y="536.9" width="512.4" height="466.1" fill="#000"/><g transform="translate(262.4 536.9) scale(0.51240 0.51240)"><g fill="url(#rg2)"><ellipse cx="600" cy="190" rx="260" ry="90" opacity="0.03"/></g><use href="#sp"/></g></g>
<g filter="url(#fy)"><rect x="929.2" y="99.0" width="912.6" height="829.6" fill="#000"/><g transform="translate(935.2 99.0) scale(0.90660 0.91201)"><g fill="url(#rg2)"><ellipse cx="740" cy="155" rx="110" ry="40" opacity="0.065"/><ellipse cx="470" cy="205" rx="150" ry="35" opacity="0.07"/><ellipse cx="520" cy="290" rx="90" ry="40" opacity="0.055"/><ellipse cx="560" cy="230" rx="420" ry="190" opacity="0.05"/><ellipse cx="650" cy="420" rx="380" ry="200" opacity="0.02"/><ellipse cx="600" cy="420" rx="620" ry="600" opacity="0.028"/><ellipse cx="600" cy="30" rx="450" ry="70" opacity="0.045"/></g><use href="#sp"/></g></g>
<rect x="929.7" y="99.5" width="911.6" height="828.6" fill="none" stroke="#000" stroke-width="1"/>
<g id="axes" stroke="#000" stroke-width="2.5" fill="none">
<path d="M946.6 59.9H1806.5M1798.2 53.3L1807 59.9L1798.2 66.4"/>
<path d="M903 210.5H929.5M903 365.8H929.5M903 473.3H929.5M903 651.8H929.5M903 743.7H929.5"/>
</g>
<text class="a" x="879" y="76.4">4.0</text>
<text class="a" x="1811" y="76.4">7.0</text>
<text class="a" x="1369.5" y="47.6">pI</text>
<text class="a" x="833.5" y="124.7">kDa</text>
<text class="a" x="843" y="227">70</text>
<text class="a" x="843" y="378.7">42</text>
<text class="a" x="843" y="493.7">30</text>
<text class="a" x="843" y="674.6">20</text>
<text class="a" x="843" y="761.2">15</text>
<g id="ann" stroke-linecap="butt">
<line x1="1231.8" y1="138.8" x2="1357.2" y2="198.0" stroke="#ff0000" stroke-width="4.5"/>
<ellipse cx="1364.6" cy="201.5" rx="8.2" ry="8.0" fill="none" stroke="#ff0000" stroke-width="4.5"/>
<line x1="1214.3" y1="235.3" x2="1369.6" y2="333.5" stroke="#ff0000" stroke-width="4.5"/>
<ellipse cx="1374.6" cy="336.7" rx="5.2" ry="10.5" fill="none" stroke="#ff0000" stroke-width="4.5"/>
<line x1="1015.1" y1="346.0" x2="1214.8" y2="343.1" stroke="#4472e3" stroke-width="4.5"/>
<ellipse cx="1223.0" cy="343.0" rx="8.2" ry="8.0" fill="none" stroke="#4472e3" stroke-width="4.5"/>
<line x1="1493.2" y1="160.1" x2="1478.1" y2="207.4" stroke="#4472e3" stroke-width="4.5"/>
<ellipse cx="1475.2" cy="216.5" rx="5.8" ry="10.5" fill="none" stroke="#4472e3" stroke-width="4.5"/>
<line x1="1641.7" y1="180.7" x2="1514.1" y2="258.0" stroke="#4472e3" stroke-width="4.5"/>
<ellipse cx="1508.2" cy="261.6" rx="6.2" ry="10.5" fill="none" stroke="#4472e3" stroke-width="4.5"/>
<line x1="1723.1" y1="193.4" x2="1675.9" y2="212.7" stroke="#ff0000" stroke-width="4.5"/>
<ellipse cx="1668.5" cy="215.7" rx="7.8" ry="10.0" fill="none" stroke="#ff0000" stroke-width="4.5"/>
<line x1="1723.1" y1="259.1" x2="1656.0" y2="286.6" stroke="#4472e3" stroke-width="4.5"/>
<ellipse cx="1650.0" cy="289.1" rx="6.2" ry="8.5" fill="none" stroke="#4472e3" stroke-width="4.5"/>
<line x1="1738.2" y1="337.5" x2="1501.4" y2="306.2" stroke="#ff0000" stroke-width="4.5"/>
<ellipse cx="1495.7" cy="305.4" rx="5.8" ry="8.5" fill="none" stroke="#ff0000" stroke-width="4.5"/>
<line x1="1496.4" y1="339.2" x2="1443.6" y2="360.6" stroke="#ff0000" stroke-width="4.5"/>
<ellipse cx="1437.6" cy="363.0" rx="6.2" ry="8.5" fill="none" stroke="#ff0000" stroke-width="4.5"/>
<line x1="1589.6" y1="397.6" x2="1521.4" y2="418.4" stroke="#4472e3" stroke-width="4.5"/>
<ellipse cx="1515.7" cy="420.1" rx="5.8" ry="10.0" fill="none" stroke="#4472e3" stroke-width="4.5"/>
<line x1="1299.0" y1="487.8" x2="1427.4" y2="483.0" stroke="#4472e3" stroke-width="4.5"/>
<ellipse cx="1435.6" cy="482.7" rx="8.2" ry="10.0" fill="none" stroke="#4472e3" stroke-width="4.5"/>
<line x1="1248.9" y1="556.1" x2="1377.4" y2="531.8" stroke="#ff0000" stroke-width="4.5"/>
<ellipse cx="1385.5" cy="530.3" rx="8.2" ry="8.5" fill="none" stroke="#ff0000" stroke-width="4.5"/>
<line x1="1315.2" y1="632.2" x2="1398.4" y2="594.6" stroke="#ff0000" stroke-width="4.5"/>
<ellipse cx="1406.6" cy="590.9" rx="8.8" ry="10.5" fill="none" stroke="#ff0000" stroke-width="4.5"/>
<line x1="1429.9" y1="644.5" x2="1467.9" y2="595.5" stroke="#ff0000" stroke-width="4.5"/>
<ellipse cx="1473.0" cy="588.9" rx="8.2" ry="8.5" fill="none" stroke="#ff0000" stroke-width="4.5"/>
<line x1="1589.8" y1="651.7" x2="1522.3" y2="591.8" stroke="#ff0000" stroke-width="4.5"/>
<ellipse cx="1516.8" cy="586.9" rx="6.2" ry="10.0" fill="none" stroke="#ff0000" stroke-width="4.5"/>
<line x1="1441.7" y1="735.4" x2="1481.2" y2="653.5" stroke="#4472e3" stroke-width="4.5"/>
<ellipse cx="1485.5" cy="644.5" rx="8.2" ry="10.5" fill="none" stroke="#4472e3" stroke-width="4.5"/>
<line x1="1725.1" y1="634.7" x2="1670.1" y2="556.9" stroke="#4472e3" stroke-width="4.5"/>
<ellipse cx="1664.5" cy="549.0" rx="8.8" ry="10.2" fill="none" stroke="#4472e3" stroke-width="4.5"/>
<line x1="1759.1" y1="593.2" x2="1702.2" y2="549.7" stroke="#4472e3" stroke-width="4.5"/>
<ellipse cx="1696.2" cy="545.1" rx="6.8" ry="10.2" fill="none" stroke="#4472e3" stroke-width="4.5"/>
<text transform="translate(1153.9 146.3) scale(1 1.06)" class="n">677</text>
<text transform="translate(1158.9 246.5) scale(1 1.06)" class="n">48</text>
<text transform="translate(989.8 358.0) scale(1 1.06)" class="n">3</text>
<text transform="translate(1471.1 153.1) scale(1 1.06)" class="n">808</text>
<text transform="translate(1635.2 165.6) scale(1 1.06)" class="n">1020</text>
<text transform="translate(1732.9 199.4) scale(1 1.06)" class="n">50</text>
<text transform="translate(1729.2 261.6) scale(1 1.06)" class="n">565</text>
<text transform="translate(1739.2 349.7) scale(1 1.06)" class="n">382</text>
<text transform="translate(1498.7 353.5) scale(1 1.06)" class="n">896</text>
<text transform="translate(1595.5 407.5) scale(1 1.06)" class="n">1394</text>
<text transform="translate(1202.3 500.3) scale(1 1.06)" class="n">1190</text>
<text transform="translate(1173.5 575.4) scale(1 1.06)" class="n">544</text>
<text transform="translate(1256.0 654.5) scale(1 1.06)" class="n">65</text>
<text transform="translate(1375.0 674.6) scale(1 1.06)" class="n">66</text>
<text transform="translate(1604.0 682.8) scale(1 1.06)" class="n">51</text>
<text transform="translate(1424.4 771.0) scale(1 1.06)" class="n">5</text>
<text transform="translate(1705.7 674.3) scale(1 1.06)" class="n">143</text>
<text transform="translate(1761.3 611.1) scale(1 1.06)" class="n">22</text>
</g>
<text class="j" x="65.3" y="303" letter-spacing="0.13">再発早期</text>
<text class="j" x="65.3" y="782.5" letter-spacing="-0.2">再発遅延</text>
<text class="j" y="1056.5"><tspan x="235.3" letter-spacing="-0.2">肝細胞癌の２</tspan><tspan x="487.2" letter-spacing="1.21">D-DIGE </tspan><tspan x="657.5">(</tspan><tspan x="667" letter-spacing="0.45">蛍光標識二次元ディファレンスゲル電気泳動解析</tspan><tspan x="1587.5">)</tspan><tspan x="1609" letter-spacing="-0.2">で発現量の</tspan></text>
<text class="j" y="1119"><tspan x="234.3" letter-spacing="0.21">異なるタンパク質スポットを赤丸（再発早期で増加）と青丸</tspan><tspan x="1361.1">(</tspan><tspan x="1377.5" letter-spacing="0.4">減少）</tspan><tspan x="1502.3" letter-spacing="1.2">で示す。</tspan></text>
</svg>
</body></html>
